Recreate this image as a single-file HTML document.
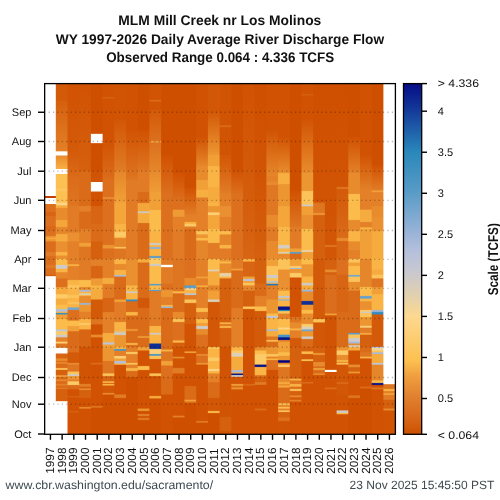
<!DOCTYPE html><html><head><meta charset="utf-8"><style>html,body{margin:0;padding:0;background:#fff;width:500px;height:500px;overflow:hidden}svg{display:block;will-change:transform}text{font-family:"Liberation Sans",sans-serif}</style></head><body>
<svg width="500" height="500" viewBox="0 0 500 500">
<rect width="500" height="500" fill="#fff"/>
<defs><linearGradient id="c1997" gradientUnits="userSpaceOnUse" x1="0" y1="83.0" x2="0" y2="434.0"><stop offset="0.0000" stop-color="#ffffff"/><stop offset="0.3211" stop-color="#ffffff"/><stop offset="0.3228" stop-color="#c04000"/><stop offset="0.3262" stop-color="#c04000"/><stop offset="0.3279" stop-color="#ffffff"/><stop offset="0.3436" stop-color="#ffffff"/><stop offset="0.3453" stop-color="#dc701e"/><stop offset="0.3658" stop-color="#dc701e"/><stop offset="0.3692" stop-color="#d76513"/><stop offset="0.3772" stop-color="#d76513"/><stop offset="0.3806" stop-color="#dc701e"/><stop offset="0.4057" stop-color="#dc701e"/><stop offset="0.4091" stop-color="#d96917"/><stop offset="0.4171" stop-color="#d96917"/><stop offset="0.4205" stop-color="#dc701e"/><stop offset="0.4342" stop-color="#dc701e"/><stop offset="0.4376" stop-color="#ec9632"/><stop offset="0.4399" stop-color="#ec9632"/><stop offset="0.4425" stop-color="#f6ab3e"/><stop offset="0.4435" stop-color="#f6ab3e"/><stop offset="0.4462" stop-color="#ec9632"/><stop offset="0.4496" stop-color="#ec9632"/><stop offset="0.4530" stop-color="#db6e1c"/><stop offset="0.4798" stop-color="#db6e1c"/><stop offset="0.4832" stop-color="#e17b25"/><stop offset="0.4912" stop-color="#e17b25"/><stop offset="0.4946" stop-color="#db6e1c"/><stop offset="0.5168" stop-color="#db6e1c"/><stop offset="0.5202" stop-color="#e17b25"/><stop offset="0.5254" stop-color="#e17b25"/><stop offset="0.5288" stop-color="#db6e1c"/><stop offset="0.5447" stop-color="#db6e1c"/><stop offset="0.5481" stop-color="#d5600e"/><stop offset="0.5499" stop-color="#d5600e"/><stop offset="0.5516" stop-color="#ffffff"/><stop offset="1.0000" stop-color="#ffffff"/></linearGradient><linearGradient id="c1998" gradientUnits="userSpaceOnUse" x1="0" y1="83.0" x2="0" y2="434.0"><stop offset="0.0017" stop-color="#d35a09"/><stop offset="0.0484" stop-color="#d35a09"/><stop offset="0.0519" stop-color="#d5600e"/><stop offset="0.1940" stop-color="#e38028"/><stop offset="0.1957" stop-color="#ffffff"/><stop offset="0.2057" stop-color="#ffffff"/><stop offset="0.2074" stop-color="#e88b2d"/><stop offset="0.2442" stop-color="#f8af42"/><stop offset="0.2459" stop-color="#ffffff"/><stop offset="0.2581" stop-color="#ffffff"/><stop offset="0.2598" stop-color="#fcc053"/><stop offset="0.2991" stop-color="#fcc053"/><stop offset="0.3026" stop-color="#fdc661"/><stop offset="0.3066" stop-color="#fdc661"/><stop offset="0.3100" stop-color="#fcc053"/><stop offset="0.3393" stop-color="#fcc053"/><stop offset="0.3427" stop-color="#fdd688"/><stop offset="0.3467" stop-color="#fdd688"/><stop offset="0.3501" stop-color="#f6ab3e"/><stop offset="0.3544" stop-color="#f6ab3e"/><stop offset="0.3578" stop-color="#e88b2d"/><stop offset="0.3886" stop-color="#e88b2d"/><stop offset="0.3920" stop-color="#f4a63b"/><stop offset="0.4085" stop-color="#f4a63b"/><stop offset="0.4120" stop-color="#e5862a"/><stop offset="0.4285" stop-color="#e5862a"/><stop offset="0.4319" stop-color="#f6ab3e"/><stop offset="0.4496" stop-color="#f6ab3e"/><stop offset="0.4530" stop-color="#ea9030"/><stop offset="0.4798" stop-color="#ea9030"/><stop offset="0.4832" stop-color="#f9b445"/><stop offset="0.4897" stop-color="#f9b445"/><stop offset="0.4932" stop-color="#ea9030"/><stop offset="0.4997" stop-color="#ea9030"/><stop offset="0.5031" stop-color="#fcbc4c"/><stop offset="0.5168" stop-color="#fcbc4c"/><stop offset="0.5202" stop-color="#cccbca"/><stop offset="0.5274" stop-color="#cccbca"/><stop offset="0.5308" stop-color="#f9b445"/><stop offset="0.5373" stop-color="#f9b445"/><stop offset="0.5407" stop-color="#e5862a"/><stop offset="0.5550" stop-color="#e5862a"/><stop offset="0.5584" stop-color="#dc701e"/><stop offset="0.5801" stop-color="#dc701e"/><stop offset="0.5835" stop-color="#f6ab3e"/><stop offset="0.6000" stop-color="#f6ab3e"/><stop offset="0.6034" stop-color="#fdca68"/><stop offset="0.6125" stop-color="#fdca68"/><stop offset="0.6160" stop-color="#f6ab3e"/><stop offset="0.6302" stop-color="#f6ab3e"/><stop offset="0.6336" stop-color="#fcbc4c"/><stop offset="0.6422" stop-color="#fcbc4c"/><stop offset="0.6456" stop-color="#b1c0db"/><stop offset="0.6501" stop-color="#b1c0db"/><stop offset="0.6527" stop-color="#f9b445"/><stop offset="0.6536" stop-color="#f9b445"/><stop offset="0.6561" stop-color="#3d90c0"/><stop offset="0.6578" stop-color="#3d90c0"/><stop offset="0.6613" stop-color="#f1a038"/><stop offset="0.6707" stop-color="#f1a038"/><stop offset="0.6741" stop-color="#fcbc4c"/><stop offset="0.7003" stop-color="#fcbc4c"/><stop offset="0.7037" stop-color="#bcc6dc"/><stop offset="0.7054" stop-color="#bcc6dc"/><stop offset="0.7088" stop-color="#fdca68"/><stop offset="0.7154" stop-color="#fdca68"/><stop offset="0.7188" stop-color="#cccbca"/><stop offset="0.7228" stop-color="#cccbca"/><stop offset="0.7262" stop-color="#e38028"/><stop offset="0.7353" stop-color="#e38028"/><stop offset="0.7387" stop-color="#fdd078"/><stop offset="0.7405" stop-color="#fdd078"/><stop offset="0.7439" stop-color="#de7521"/><stop offset="0.7533" stop-color="#de7521"/><stop offset="0.7550" stop-color="#ffffff"/><stop offset="0.7698" stop-color="#ffffff"/><stop offset="0.7715" stop-color="#d76513"/><stop offset="0.7829" stop-color="#d76513"/><stop offset="0.7863" stop-color="#e88b2d"/><stop offset="0.7903" stop-color="#e88b2d"/><stop offset="0.7930" stop-color="#da6b19"/><stop offset="0.7939" stop-color="#da6b19"/><stop offset="0.7965" stop-color="#e88b2d"/><stop offset="0.7981" stop-color="#e88b2d"/><stop offset="0.8014" stop-color="#da6b19"/><stop offset="0.8103" stop-color="#da6b19"/><stop offset="0.8137" stop-color="#fcc35a"/><stop offset="0.8157" stop-color="#fcc35a"/><stop offset="0.8191" stop-color="#d5600e"/><stop offset="0.8308" stop-color="#d5600e"/><stop offset="0.8342" stop-color="#f1a038"/><stop offset="0.8359" stop-color="#f1a038"/><stop offset="0.8393" stop-color="#da6b19"/><stop offset="0.8430" stop-color="#da6b19"/><stop offset="0.8462" stop-color="#e88b2d"/><stop offset="0.8476" stop-color="#e88b2d"/><stop offset="0.8507" stop-color="#da6b19"/><stop offset="0.8558" stop-color="#da6b19"/><stop offset="0.8590" stop-color="#e38028"/><stop offset="0.8604" stop-color="#e38028"/><stop offset="0.8635" stop-color="#da6b19"/><stop offset="0.8672" stop-color="#da6b19"/><stop offset="0.8699" stop-color="#e17b25"/><stop offset="0.8708" stop-color="#e17b25"/><stop offset="0.8735" stop-color="#d5600e"/><stop offset="0.9060" stop-color="#d5600e"/><stop offset="0.9077" stop-color="#ffffff"/><stop offset="1.0000" stop-color="#ffffff"/></linearGradient><linearGradient id="c1999" gradientUnits="userSpaceOnUse" x1="0" y1="83.0" x2="0" y2="434.0"><stop offset="0.0017" stop-color="#d15202"/><stop offset="0.1892" stop-color="#d35a09"/><stop offset="0.1926" stop-color="#d35a09"/><stop offset="0.2746" stop-color="#db6d1b"/><stop offset="0.2781" stop-color="#db6d1b"/><stop offset="0.3487" stop-color="#de7521"/><stop offset="0.3521" stop-color="#e17b25"/><stop offset="0.4245" stop-color="#e17b25"/><stop offset="0.4279" stop-color="#ea9030"/><stop offset="0.4496" stop-color="#ea9030"/><stop offset="0.4530" stop-color="#e38028"/><stop offset="0.4997" stop-color="#e38028"/><stop offset="0.5031" stop-color="#e38028"/><stop offset="0.5148" stop-color="#e38028"/><stop offset="0.5181" stop-color="#f9b445"/><stop offset="0.5198" stop-color="#f9b445"/><stop offset="0.5231" stop-color="#e38028"/><stop offset="0.5595" stop-color="#e38028"/><stop offset="0.5630" stop-color="#f9b445"/><stop offset="0.5738" stop-color="#f9b445"/><stop offset="0.5772" stop-color="#fcc35a"/><stop offset="0.5823" stop-color="#fcc35a"/><stop offset="0.5858" stop-color="#f9b445"/><stop offset="0.6023" stop-color="#f9b445"/><stop offset="0.6057" stop-color="#fcc35a"/><stop offset="0.6108" stop-color="#fcc35a"/><stop offset="0.6142" stop-color="#f9b445"/><stop offset="0.6222" stop-color="#f9b445"/><stop offset="0.6256" stop-color="#fcc35a"/><stop offset="0.6279" stop-color="#fcc35a"/><stop offset="0.6313" stop-color="#f9b445"/><stop offset="0.6376" stop-color="#f9b445"/><stop offset="0.6410" stop-color="#74a6ce"/><stop offset="0.6450" stop-color="#74a6ce"/><stop offset="0.6484" stop-color="#dc701e"/><stop offset="0.6752" stop-color="#dc701e"/><stop offset="0.6786" stop-color="#fcbc4c"/><stop offset="0.6906" stop-color="#fcbc4c"/><stop offset="0.6940" stop-color="#f1a038"/><stop offset="0.7054" stop-color="#f1a038"/><stop offset="0.7088" stop-color="#da6b19"/><stop offset="0.7504" stop-color="#da6b19"/><stop offset="0.7538" stop-color="#dc701e"/><stop offset="0.7655" stop-color="#dc701e"/><stop offset="0.7689" stop-color="#d35a09"/><stop offset="0.7960" stop-color="#d35a09"/><stop offset="0.7992" stop-color="#e88b2d"/><stop offset="0.8008" stop-color="#e88b2d"/><stop offset="0.8040" stop-color="#de7521"/><stop offset="0.8205" stop-color="#de7521"/><stop offset="0.8239" stop-color="#fcc35a"/><stop offset="0.8282" stop-color="#fcc35a"/><stop offset="0.8315" stop-color="#cccbca"/><stop offset="0.8331" stop-color="#cccbca"/><stop offset="0.8365" stop-color="#ec9632"/><stop offset="0.8433" stop-color="#ec9632"/><stop offset="0.8466" stop-color="#e38028"/><stop offset="0.8482" stop-color="#e38028"/><stop offset="0.8516" stop-color="#fdca68"/><stop offset="0.8587" stop-color="#fdca68"/><stop offset="0.8621" stop-color="#da6b19"/><stop offset="0.8709" stop-color="#da6b19"/><stop offset="0.8744" stop-color="#d15202"/><stop offset="0.8900" stop-color="#d15202"/><stop offset="0.8932" stop-color="#d5600e"/><stop offset="0.8946" stop-color="#d5600e"/><stop offset="0.8977" stop-color="#d15202"/><stop offset="0.9328" stop-color="#d15202"/><stop offset="0.9359" stop-color="#d5600e"/><stop offset="0.9373" stop-color="#d5600e"/><stop offset="0.9405" stop-color="#d15202"/><stop offset="0.9983" stop-color="#d15202"/></linearGradient><linearGradient id="c2000" gradientUnits="userSpaceOnUse" x1="0" y1="83.0" x2="0" y2="434.0"><stop offset="0.0017" stop-color="#d15202"/><stop offset="0.2490" stop-color="#d5600e"/><stop offset="0.2524" stop-color="#da6b19"/><stop offset="0.3487" stop-color="#da6b19"/><stop offset="0.3521" stop-color="#e38028"/><stop offset="0.3644" stop-color="#e38028"/><stop offset="0.3678" stop-color="#da6b19"/><stop offset="0.4142" stop-color="#da6b19"/><stop offset="0.4177" stop-color="#e38028"/><stop offset="0.4541" stop-color="#e38028"/><stop offset="0.4575" stop-color="#f1a038"/><stop offset="0.4647" stop-color="#f1a038"/><stop offset="0.4681" stop-color="#de7521"/><stop offset="0.4997" stop-color="#de7521"/><stop offset="0.5031" stop-color="#e17b25"/><stop offset="0.5595" stop-color="#e17b25"/><stop offset="0.5630" stop-color="#fcbc4c"/><stop offset="0.5795" stop-color="#fcbc4c"/><stop offset="0.5829" stop-color="#e88b2d"/><stop offset="0.5880" stop-color="#e88b2d"/><stop offset="0.5913" stop-color="#a7bad9"/><stop offset="0.5928" stop-color="#a7bad9"/><stop offset="0.5959" stop-color="#f9b445"/><stop offset="0.5975" stop-color="#f9b445"/><stop offset="0.6008" stop-color="#dcd0b8"/><stop offset="0.6024" stop-color="#dcd0b8"/><stop offset="0.6049" stop-color="#f9b445"/><stop offset="0.6059" stop-color="#f9b445"/><stop offset="0.6085" stop-color="#e88b2d"/><stop offset="0.6251" stop-color="#e88b2d"/><stop offset="0.6285" stop-color="#9cb4d8"/><stop offset="0.6302" stop-color="#9cb4d8"/><stop offset="0.6336" stop-color="#ec9632"/><stop offset="0.6501" stop-color="#ec9632"/><stop offset="0.6536" stop-color="#e38028"/><stop offset="0.6707" stop-color="#e38028"/><stop offset="0.6741" stop-color="#f9b445"/><stop offset="0.6821" stop-color="#f9b445"/><stop offset="0.6855" stop-color="#fdca68"/><stop offset="0.6877" stop-color="#fdca68"/><stop offset="0.6912" stop-color="#f9b445"/><stop offset="0.7003" stop-color="#f9b445"/><stop offset="0.7037" stop-color="#d76513"/><stop offset="0.7504" stop-color="#d76513"/><stop offset="0.7538" stop-color="#d15404"/><stop offset="0.8558" stop-color="#d15404"/><stop offset="0.8593" stop-color="#e38028"/><stop offset="0.8632" stop-color="#e38028"/><stop offset="0.8667" stop-color="#d5600e"/><stop offset="0.8684" stop-color="#d5600e"/><stop offset="0.8716" stop-color="#e88b2d"/><stop offset="0.8731" stop-color="#e88b2d"/><stop offset="0.8764" stop-color="#d5600e"/><stop offset="0.8957" stop-color="#d5600e"/><stop offset="0.8991" stop-color="#d15202"/><stop offset="0.9214" stop-color="#d15202"/><stop offset="0.9246" stop-color="#e88b2d"/><stop offset="0.9261" stop-color="#e88b2d"/><stop offset="0.9293" stop-color="#d15202"/><stop offset="0.9983" stop-color="#d15202"/></linearGradient><linearGradient id="c2001" gradientUnits="userSpaceOnUse" x1="0" y1="83.0" x2="0" y2="434.0"><stop offset="0.0017" stop-color="#cf4f00"/><stop offset="0.1436" stop-color="#cf4f00"/><stop offset="0.1453" stop-color="#ffffff"/><stop offset="0.1709" stop-color="#ffffff"/><stop offset="0.1726" stop-color="#cf4f00"/><stop offset="0.2490" stop-color="#cf4f00"/><stop offset="0.2524" stop-color="#d15404"/><stop offset="0.2815" stop-color="#d15404"/><stop offset="0.2832" stop-color="#ffffff"/><stop offset="0.3083" stop-color="#ffffff"/><stop offset="0.3100" stop-color="#d15202"/><stop offset="0.3487" stop-color="#d15202"/><stop offset="0.3521" stop-color="#d76513"/><stop offset="0.4000" stop-color="#d76513"/><stop offset="0.4034" stop-color="#da6b19"/><stop offset="0.4496" stop-color="#da6b19"/><stop offset="0.4530" stop-color="#d5600e"/><stop offset="0.4997" stop-color="#d5600e"/><stop offset="0.5031" stop-color="#e38028"/><stop offset="0.5197" stop-color="#e38028"/><stop offset="0.5231" stop-color="#d76513"/><stop offset="0.5550" stop-color="#d76513"/><stop offset="0.5584" stop-color="#ee9b35"/><stop offset="0.5749" stop-color="#ee9b35"/><stop offset="0.5783" stop-color="#f9b445"/><stop offset="0.5852" stop-color="#f9b445"/><stop offset="0.5886" stop-color="#f6ab3e"/><stop offset="0.6151" stop-color="#f6ab3e"/><stop offset="0.6185" stop-color="#d35a09"/><stop offset="0.6707" stop-color="#d35a09"/><stop offset="0.6741" stop-color="#de7521"/><stop offset="0.6858" stop-color="#de7521"/><stop offset="0.6892" stop-color="#d15404"/><stop offset="0.7154" stop-color="#d15404"/><stop offset="0.7188" stop-color="#e88b2d"/><stop offset="0.7228" stop-color="#e88b2d"/><stop offset="0.7262" stop-color="#d15202"/><stop offset="0.7504" stop-color="#d15202"/><stop offset="0.7538" stop-color="#d15404"/><stop offset="0.7954" stop-color="#d15404"/><stop offset="0.7989" stop-color="#da6b19"/><stop offset="0.8006" stop-color="#da6b19"/><stop offset="0.8040" stop-color="#d15202"/><stop offset="0.9185" stop-color="#d15202"/><stop offset="0.9218" stop-color="#de7521"/><stop offset="0.9235" stop-color="#de7521"/><stop offset="0.9268" stop-color="#cf4f00"/><stop offset="0.9983" stop-color="#cf4f00"/></linearGradient><linearGradient id="c2002" gradientUnits="userSpaceOnUse" x1="0" y1="83.0" x2="0" y2="434.0"><stop offset="0.0017" stop-color="#d15202"/><stop offset="0.0382" stop-color="#d15202"/><stop offset="0.0413" stop-color="#d66210"/><stop offset="0.0427" stop-color="#d66210"/><stop offset="0.0459" stop-color="#d15202"/><stop offset="0.1607" stop-color="#d15202"/><stop offset="0.1641" stop-color="#d15202"/><stop offset="0.2746" stop-color="#db6d1b"/><stop offset="0.2781" stop-color="#dc701e"/><stop offset="0.3231" stop-color="#dc701e"/><stop offset="0.3265" stop-color="#e88b2d"/><stop offset="0.3288" stop-color="#e88b2d"/><stop offset="0.3322" stop-color="#dc701e"/><stop offset="0.4598" stop-color="#dc701e"/><stop offset="0.4632" stop-color="#ec9632"/><stop offset="0.4698" stop-color="#ec9632"/><stop offset="0.4732" stop-color="#dc701e"/><stop offset="0.4997" stop-color="#dc701e"/><stop offset="0.5031" stop-color="#e38028"/><stop offset="0.5538" stop-color="#e38028"/><stop offset="0.5573" stop-color="#f6ab3e"/><stop offset="0.5709" stop-color="#f6ab3e"/><stop offset="0.5744" stop-color="#e17b25"/><stop offset="0.6108" stop-color="#e17b25"/><stop offset="0.6142" stop-color="#d76513"/><stop offset="0.6507" stop-color="#d76513"/><stop offset="0.6541" stop-color="#e38028"/><stop offset="0.7105" stop-color="#e38028"/><stop offset="0.7140" stop-color="#f6ab3e"/><stop offset="0.7362" stop-color="#f6ab3e"/><stop offset="0.7422" stop-color="#bcc6dc"/><stop offset="0.7436" stop-color="#bcc6dc"/><stop offset="0.7467" stop-color="#f1a038"/><stop offset="0.7504" stop-color="#f1a038"/><stop offset="0.7538" stop-color="#ec9632"/><stop offset="0.7903" stop-color="#ec9632"/><stop offset="0.7937" stop-color="#de7521"/><stop offset="0.8256" stop-color="#de7521"/><stop offset="0.8291" stop-color="#fcc35a"/><stop offset="0.8330" stop-color="#fcc35a"/><stop offset="0.8365" stop-color="#d76513"/><stop offset="0.8481" stop-color="#d76513"/><stop offset="0.8515" stop-color="#f9b445"/><stop offset="0.8531" stop-color="#f9b445"/><stop offset="0.8557" stop-color="#da6b19"/><stop offset="0.8566" stop-color="#da6b19"/><stop offset="0.8590" stop-color="#f9b445"/><stop offset="0.8604" stop-color="#f9b445"/><stop offset="0.8635" stop-color="#d25706"/><stop offset="0.8815" stop-color="#d25706"/><stop offset="0.8846" stop-color="#e88b2d"/><stop offset="0.8860" stop-color="#e88b2d"/><stop offset="0.8892" stop-color="#cf4f00"/><stop offset="0.9983" stop-color="#cf4f00"/></linearGradient><linearGradient id="c2003" gradientUnits="userSpaceOnUse" x1="0" y1="83.0" x2="0" y2="434.0"><stop offset="0.0017" stop-color="#d15404"/><stop offset="0.1037" stop-color="#d15404"/><stop offset="0.1071" stop-color="#d25706"/><stop offset="0.2490" stop-color="#e17b25"/><stop offset="0.2524" stop-color="#e5862a"/><stop offset="0.3402" stop-color="#f1a038"/><stop offset="0.3436" stop-color="#f4a63b"/><stop offset="0.4000" stop-color="#f4a63b"/><stop offset="0.4034" stop-color="#f9b445"/><stop offset="0.4228" stop-color="#f9b445"/><stop offset="0.4262" stop-color="#fdca68"/><stop offset="0.4370" stop-color="#fdca68"/><stop offset="0.4397" stop-color="#f9b445"/><stop offset="0.4406" stop-color="#f9b445"/><stop offset="0.4433" stop-color="#e5862a"/><stop offset="0.4655" stop-color="#e5862a"/><stop offset="0.4687" stop-color="#fcc35a"/><stop offset="0.4701" stop-color="#fcc35a"/><stop offset="0.4732" stop-color="#de7521"/><stop offset="0.4997" stop-color="#de7521"/><stop offset="0.5031" stop-color="#f9b445"/><stop offset="0.5140" stop-color="#f9b445"/><stop offset="0.5174" stop-color="#e88b2d"/><stop offset="0.5311" stop-color="#e88b2d"/><stop offset="0.5345" stop-color="#f9b445"/><stop offset="0.5453" stop-color="#f9b445"/><stop offset="0.5485" stop-color="#a7bad9"/><stop offset="0.5500" stop-color="#a7bad9"/><stop offset="0.5533" stop-color="#da6b19"/><stop offset="0.6151" stop-color="#da6b19"/><stop offset="0.6185" stop-color="#f1a038"/><stop offset="0.6222" stop-color="#f1a038"/><stop offset="0.6256" stop-color="#e17b25"/><stop offset="0.6792" stop-color="#e17b25"/><stop offset="0.6826" stop-color="#f9b445"/><stop offset="0.7048" stop-color="#f9b445"/><stop offset="0.7140" stop-color="#cccbca"/><stop offset="0.7162" stop-color="#cccbca"/><stop offset="0.7197" stop-color="#ec9632"/><stop offset="0.7504" stop-color="#ec9632"/><stop offset="0.7538" stop-color="#f9b445"/><stop offset="0.7561" stop-color="#f9b445"/><stop offset="0.7595" stop-color="#4794c3"/><stop offset="0.7613" stop-color="#4794c3"/><stop offset="0.7647" stop-color="#e38028"/><stop offset="0.7761" stop-color="#e38028"/><stop offset="0.7795" stop-color="#fdd078"/><stop offset="0.7829" stop-color="#fdd078"/><stop offset="0.7863" stop-color="#f1a038"/><stop offset="0.7903" stop-color="#f1a038"/><stop offset="0.7937" stop-color="#b1c0db"/><stop offset="0.7980" stop-color="#b1c0db"/><stop offset="0.8006" stop-color="#f9b445"/><stop offset="0.8014" stop-color="#f9b445"/><stop offset="0.8040" stop-color="#d15202"/><stop offset="0.8858" stop-color="#d15202"/><stop offset="0.8892" stop-color="#e17b25"/><stop offset="0.8957" stop-color="#e17b25"/><stop offset="0.8991" stop-color="#cf4f00"/><stop offset="0.9983" stop-color="#cf4f00"/></linearGradient><linearGradient id="c2004" gradientUnits="userSpaceOnUse" x1="0" y1="83.0" x2="0" y2="434.0"><stop offset="0.0017" stop-color="#d15202"/><stop offset="0.1322" stop-color="#d15202"/><stop offset="0.1356" stop-color="#d15404"/><stop offset="0.2746" stop-color="#de7521"/><stop offset="0.2781" stop-color="#e17b25"/><stop offset="0.4997" stop-color="#e17b25"/><stop offset="0.5031" stop-color="#ea9030"/><stop offset="0.5752" stop-color="#ea9030"/><stop offset="0.5786" stop-color="#f9b445"/><stop offset="0.5923" stop-color="#f9b445"/><stop offset="0.5954" stop-color="#cccbca"/><stop offset="0.5969" stop-color="#cccbca"/><stop offset="0.6000" stop-color="#f9b445"/><stop offset="0.6151" stop-color="#f9b445"/><stop offset="0.6185" stop-color="#348cbe"/><stop offset="0.6202" stop-color="#348cbe"/><stop offset="0.6236" stop-color="#da6b19"/><stop offset="0.6507" stop-color="#da6b19"/><stop offset="0.6541" stop-color="#f9b445"/><stop offset="0.6607" stop-color="#f9b445"/><stop offset="0.6641" stop-color="#da6b19"/><stop offset="0.6991" stop-color="#da6b19"/><stop offset="0.7026" stop-color="#ec9632"/><stop offset="0.7048" stop-color="#ec9632"/><stop offset="0.7083" stop-color="#da6b19"/><stop offset="0.7390" stop-color="#da6b19"/><stop offset="0.7425" stop-color="#f9b445"/><stop offset="0.7447" stop-color="#f9b445"/><stop offset="0.7481" stop-color="#da6b19"/><stop offset="0.7504" stop-color="#da6b19"/><stop offset="0.7538" stop-color="#e38028"/><stop offset="0.7647" stop-color="#e38028"/><stop offset="0.7681" stop-color="#fdca68"/><stop offset="0.7704" stop-color="#fdca68"/><stop offset="0.7738" stop-color="#e38028"/><stop offset="0.7960" stop-color="#e38028"/><stop offset="0.7992" stop-color="#fcc35a"/><stop offset="0.8008" stop-color="#fcc35a"/><stop offset="0.8040" stop-color="#e38028"/><stop offset="0.8103" stop-color="#e38028"/><stop offset="0.8137" stop-color="#f9b445"/><stop offset="0.8188" stop-color="#f9b445"/><stop offset="0.8222" stop-color="#da6b19"/><stop offset="0.8359" stop-color="#da6b19"/><stop offset="0.8393" stop-color="#cf4f00"/><stop offset="0.9983" stop-color="#cf4f00"/></linearGradient><linearGradient id="c2005" gradientUnits="userSpaceOnUse" x1="0" y1="83.0" x2="0" y2="434.0"><stop offset="0.0017" stop-color="#cf4f00"/><stop offset="0.1322" stop-color="#cf4f00"/><stop offset="0.1356" stop-color="#d15202"/><stop offset="0.2490" stop-color="#de7521"/><stop offset="0.2524" stop-color="#e17b25"/><stop offset="0.3088" stop-color="#e17b25"/><stop offset="0.3123" stop-color="#da6b19"/><stop offset="0.3402" stop-color="#da6b19"/><stop offset="0.3436" stop-color="#f4a63b"/><stop offset="0.3644" stop-color="#f4a63b"/><stop offset="0.3675" stop-color="#cccbca"/><stop offset="0.3689" stop-color="#cccbca"/><stop offset="0.3721" stop-color="#f6ab3e"/><stop offset="0.3972" stop-color="#f6ab3e"/><stop offset="0.4006" stop-color="#da6b19"/><stop offset="0.4997" stop-color="#da6b19"/><stop offset="0.5031" stop-color="#f6ab3e"/><stop offset="0.5097" stop-color="#f6ab3e"/><stop offset="0.5131" stop-color="#da6b19"/><stop offset="0.6108" stop-color="#da6b19"/><stop offset="0.6142" stop-color="#d25706"/><stop offset="0.6393" stop-color="#d25706"/><stop offset="0.6427" stop-color="#da6b19"/><stop offset="0.7191" stop-color="#da6b19"/><stop offset="0.7225" stop-color="#ec9632"/><stop offset="0.7248" stop-color="#ec9632"/><stop offset="0.7282" stop-color="#da6b19"/><stop offset="0.7504" stop-color="#da6b19"/><stop offset="0.7538" stop-color="#f1a038"/><stop offset="0.7604" stop-color="#f1a038"/><stop offset="0.7638" stop-color="#d15202"/><stop offset="0.8046" stop-color="#d15202"/><stop offset="0.8080" stop-color="#fcbc4c"/><stop offset="0.8160" stop-color="#fcbc4c"/><stop offset="0.8194" stop-color="#d15202"/><stop offset="0.9259" stop-color="#d15202"/><stop offset="0.9293" stop-color="#ec9632"/><stop offset="0.9328" stop-color="#ec9632"/><stop offset="0.9362" stop-color="#cf4f00"/><stop offset="0.9413" stop-color="#cf4f00"/><stop offset="0.9447" stop-color="#e38028"/><stop offset="0.9470" stop-color="#e38028"/><stop offset="0.9504" stop-color="#d15404"/><stop offset="0.9527" stop-color="#d15404"/><stop offset="0.9561" stop-color="#e17b25"/><stop offset="0.9584" stop-color="#e17b25"/><stop offset="0.9618" stop-color="#cf4f00"/><stop offset="0.9983" stop-color="#cf4f00"/></linearGradient><linearGradient id="c2006" gradientUnits="userSpaceOnUse" x1="0" y1="83.0" x2="0" y2="434.0"><stop offset="0.0017" stop-color="#d15404"/><stop offset="0.0467" stop-color="#d15404"/><stop offset="0.0499" stop-color="#da6b19"/><stop offset="0.0513" stop-color="#da6b19"/><stop offset="0.0544" stop-color="#d15404"/><stop offset="0.0752" stop-color="#d15404"/><stop offset="0.0786" stop-color="#d35a09"/><stop offset="0.1635" stop-color="#dc701e"/><stop offset="0.1667" stop-color="#f1a038"/><stop offset="0.1681" stop-color="#f1a038"/><stop offset="0.1712" stop-color="#dd711f"/><stop offset="0.2490" stop-color="#e5862a"/><stop offset="0.2524" stop-color="#e88b2d"/><stop offset="0.3088" stop-color="#ee9b35"/><stop offset="0.3123" stop-color="#f1a038"/><stop offset="0.3601" stop-color="#f1a038"/><stop offset="0.3635" stop-color="#fcbc4c"/><stop offset="0.4199" stop-color="#fcbc4c"/><stop offset="0.4234" stop-color="#f9b445"/><stop offset="0.4541" stop-color="#f9b445"/><stop offset="0.4575" stop-color="#cccbca"/><stop offset="0.4598" stop-color="#cccbca"/><stop offset="0.4632" stop-color="#f9b445"/><stop offset="0.4655" stop-color="#f9b445"/><stop offset="0.4689" stop-color="#8fafd5"/><stop offset="0.4712" stop-color="#8fafd5"/><stop offset="0.4746" stop-color="#f9b445"/><stop offset="0.4912" stop-color="#f9b445"/><stop offset="0.4946" stop-color="#5a9cc8"/><stop offset="0.4969" stop-color="#5a9cc8"/><stop offset="0.5003" stop-color="#fdca68"/><stop offset="0.5140" stop-color="#fdca68"/><stop offset="0.5174" stop-color="#cccbca"/><stop offset="0.5197" stop-color="#cccbca"/><stop offset="0.5231" stop-color="#fcbc4c"/><stop offset="0.5709" stop-color="#fcbc4c"/><stop offset="0.5740" stop-color="#5a9cc8"/><stop offset="0.5753" stop-color="#5a9cc8"/><stop offset="0.5783" stop-color="#fcbc4c"/><stop offset="0.5880" stop-color="#fcbc4c"/><stop offset="0.5907" stop-color="#5a9cc8"/><stop offset="0.5916" stop-color="#5a9cc8"/><stop offset="0.5943" stop-color="#e17b25"/><stop offset="0.6906" stop-color="#e17b25"/><stop offset="0.6940" stop-color="#f9b445"/><stop offset="0.7105" stop-color="#f9b445"/><stop offset="0.7137" stop-color="#cccbca"/><stop offset="0.7151" stop-color="#cccbca"/><stop offset="0.7182" stop-color="#f9b445"/><stop offset="0.7405" stop-color="#f9b445"/><stop offset="0.7439" stop-color="#0c2f96"/><stop offset="0.7561" stop-color="#0c2f96"/><stop offset="0.7595" stop-color="#fdd078"/><stop offset="0.7704" stop-color="#fdd078"/><stop offset="0.7738" stop-color="#4794c3"/><stop offset="0.7755" stop-color="#4794c3"/><stop offset="0.7789" stop-color="#fcc35a"/><stop offset="0.7846" stop-color="#fcc35a"/><stop offset="0.7880" stop-color="#d15404"/><stop offset="0.8256" stop-color="#d15404"/><stop offset="0.8291" stop-color="#fcc35a"/><stop offset="0.8330" stop-color="#fcc35a"/><stop offset="0.8365" stop-color="#d15404"/><stop offset="0.8900" stop-color="#d15404"/><stop offset="0.8934" stop-color="#f6ab3e"/><stop offset="0.8969" stop-color="#f6ab3e"/><stop offset="0.9003" stop-color="#cf4f00"/><stop offset="0.9983" stop-color="#cf4f00"/></linearGradient><linearGradient id="c2007" gradientUnits="userSpaceOnUse" x1="0" y1="83.0" x2="0" y2="434.0"><stop offset="0.0017" stop-color="#cf4f00"/><stop offset="0.2034" stop-color="#cf4f00"/><stop offset="0.2068" stop-color="#d15202"/><stop offset="0.3174" stop-color="#dc701e"/><stop offset="0.3208" stop-color="#dc701e"/><stop offset="0.4997" stop-color="#dc701e"/><stop offset="0.5031" stop-color="#e17b25"/><stop offset="0.5168" stop-color="#e17b25"/><stop offset="0.5185" stop-color="#ffffff"/><stop offset="0.5242" stop-color="#ffffff"/><stop offset="0.5259" stop-color="#e17b25"/><stop offset="0.5698" stop-color="#e17b25"/><stop offset="0.5732" stop-color="#dc701e"/><stop offset="0.5880" stop-color="#dc701e"/><stop offset="0.5915" stop-color="#ec9632"/><stop offset="0.6080" stop-color="#ec9632"/><stop offset="0.6114" stop-color="#e38028"/><stop offset="0.6308" stop-color="#e38028"/><stop offset="0.6339" stop-color="#f9b445"/><stop offset="0.6353" stop-color="#f9b445"/><stop offset="0.6382" stop-color="#9cb4d8"/><stop offset="0.6396" stop-color="#9cb4d8"/><stop offset="0.6427" stop-color="#da6b19"/><stop offset="0.7504" stop-color="#da6b19"/><stop offset="0.7538" stop-color="#da6b19"/><stop offset="0.7578" stop-color="#da6b19"/><stop offset="0.7613" stop-color="#f9b445"/><stop offset="0.7630" stop-color="#f9b445"/><stop offset="0.7664" stop-color="#de7521"/><stop offset="0.7903" stop-color="#de7521"/><stop offset="0.7937" stop-color="#f1a038"/><stop offset="0.8031" stop-color="#f1a038"/><stop offset="0.8066" stop-color="#dc701e"/><stop offset="0.8359" stop-color="#dc701e"/><stop offset="0.8393" stop-color="#da6b19"/><stop offset="0.8858" stop-color="#da6b19"/><stop offset="0.8892" stop-color="#d15202"/><stop offset="0.9983" stop-color="#d15202"/></linearGradient><linearGradient id="c2008" gradientUnits="userSpaceOnUse" x1="0" y1="83.0" x2="0" y2="434.0"><stop offset="0.0017" stop-color="#cf4f00"/><stop offset="0.2547" stop-color="#cf4f00"/><stop offset="0.2581" stop-color="#d15202"/><stop offset="0.3373" stop-color="#dc701e"/><stop offset="0.3407" stop-color="#dc701e"/><stop offset="0.3593" stop-color="#dc701e"/><stop offset="0.3627" stop-color="#ee9b35"/><stop offset="0.3795" stop-color="#ee9b35"/><stop offset="0.3829" stop-color="#e38028"/><stop offset="0.4199" stop-color="#e38028"/><stop offset="0.4234" stop-color="#e17b25"/><stop offset="0.4997" stop-color="#e17b25"/><stop offset="0.5031" stop-color="#de7521"/><stop offset="0.5909" stop-color="#de7521"/><stop offset="0.5957" stop-color="#fcbc4c"/><stop offset="0.5974" stop-color="#fcbc4c"/><stop offset="0.6009" stop-color="#da6b19"/><stop offset="0.6507" stop-color="#da6b19"/><stop offset="0.6541" stop-color="#e88b2d"/><stop offset="0.6707" stop-color="#e88b2d"/><stop offset="0.6741" stop-color="#fcc35a"/><stop offset="0.6792" stop-color="#fcc35a"/><stop offset="0.6826" stop-color="#dc701e"/><stop offset="0.7305" stop-color="#dc701e"/><stop offset="0.7366" stop-color="#fcbc4c"/><stop offset="0.7381" stop-color="#fcbc4c"/><stop offset="0.7413" stop-color="#d5600e"/><stop offset="0.7504" stop-color="#d5600e"/><stop offset="0.7538" stop-color="#d15404"/><stop offset="0.7781" stop-color="#d15404"/><stop offset="0.7814" stop-color="#e88b2d"/><stop offset="0.7830" stop-color="#e88b2d"/><stop offset="0.7863" stop-color="#d15404"/><stop offset="0.8103" stop-color="#d15404"/><stop offset="0.8137" stop-color="#e17b25"/><stop offset="0.8256" stop-color="#e17b25"/><stop offset="0.8291" stop-color="#d15202"/><stop offset="0.9462" stop-color="#d15202"/><stop offset="0.9495" stop-color="#e38028"/><stop offset="0.9511" stop-color="#e38028"/><stop offset="0.9544" stop-color="#cf4f00"/><stop offset="0.9983" stop-color="#cf4f00"/></linearGradient><linearGradient id="c2009" gradientUnits="userSpaceOnUse" x1="0" y1="83.0" x2="0" y2="434.0"><stop offset="0.0017" stop-color="#cf4f00"/><stop offset="0.2974" stop-color="#cf4f00"/><stop offset="0.3009" stop-color="#d15404"/><stop offset="0.3744" stop-color="#e17b25"/><stop offset="0.3778" stop-color="#e38028"/><stop offset="0.3943" stop-color="#e38028"/><stop offset="0.3977" stop-color="#f9b445"/><stop offset="0.4000" stop-color="#f9b445"/><stop offset="0.4034" stop-color="#fdca68"/><stop offset="0.4071" stop-color="#fdca68"/><stop offset="0.4105" stop-color="#e17b25"/><stop offset="0.4142" stop-color="#e17b25"/><stop offset="0.4177" stop-color="#da6b19"/><stop offset="0.4997" stop-color="#da6b19"/><stop offset="0.5031" stop-color="#dc701e"/><stop offset="0.5538" stop-color="#dc701e"/><stop offset="0.5573" stop-color="#e88b2d"/><stop offset="0.5749" stop-color="#e88b2d"/><stop offset="0.5783" stop-color="#5a9cc8"/><stop offset="0.5823" stop-color="#5a9cc8"/><stop offset="0.5858" stop-color="#f2d498"/><stop offset="0.5880" stop-color="#f2d498"/><stop offset="0.5915" stop-color="#f9b445"/><stop offset="0.5974" stop-color="#f9b445"/><stop offset="0.6008" stop-color="#bcc6dc"/><stop offset="0.6024" stop-color="#bcc6dc"/><stop offset="0.6057" stop-color="#e17b25"/><stop offset="0.6151" stop-color="#e17b25"/><stop offset="0.6185" stop-color="#fcc35a"/><stop offset="0.6251" stop-color="#fcc35a"/><stop offset="0.6285" stop-color="#d5600e"/><stop offset="0.6849" stop-color="#d5600e"/><stop offset="0.6883" stop-color="#d15404"/><stop offset="0.7504" stop-color="#d15404"/><stop offset="0.7538" stop-color="#d15404"/><stop offset="0.7630" stop-color="#d15404"/><stop offset="0.7662" stop-color="#f1a038"/><stop offset="0.7677" stop-color="#f1a038"/><stop offset="0.7709" stop-color="#d15202"/><stop offset="0.8615" stop-color="#d15202"/><stop offset="0.8650" stop-color="#da6b19"/><stop offset="0.9009" stop-color="#da6b19"/><stop offset="0.9043" stop-color="#f1a038"/><stop offset="0.9060" stop-color="#f1a038"/><stop offset="0.9090" stop-color="#da6b19"/><stop offset="0.9104" stop-color="#da6b19"/><stop offset="0.9134" stop-color="#cf4f00"/><stop offset="0.9983" stop-color="#cf4f00"/></linearGradient><linearGradient id="c2010" gradientUnits="userSpaceOnUse" x1="0" y1="83.0" x2="0" y2="434.0"><stop offset="0.0017" stop-color="#d15202"/><stop offset="0.1521" stop-color="#d15202"/><stop offset="0.1556" stop-color="#d15404"/><stop offset="0.2348" stop-color="#e5862a"/><stop offset="0.2382" stop-color="#e88b2d"/><stop offset="0.2746" stop-color="#e88b2d"/><stop offset="0.2781" stop-color="#f1a038"/><stop offset="0.3031" stop-color="#f1a038"/><stop offset="0.3066" stop-color="#f8af42"/><stop offset="0.3242" stop-color="#f8af42"/><stop offset="0.3276" stop-color="#e38028"/><stop offset="0.4199" stop-color="#e38028"/><stop offset="0.4234" stop-color="#fcc35a"/><stop offset="0.4296" stop-color="#fcc35a"/><stop offset="0.4330" stop-color="#ec9632"/><stop offset="0.4399" stop-color="#ec9632"/><stop offset="0.4433" stop-color="#fcbc4c"/><stop offset="0.4470" stop-color="#fcbc4c"/><stop offset="0.4504" stop-color="#e5862a"/><stop offset="0.4997" stop-color="#e5862a"/><stop offset="0.5031" stop-color="#e38028"/><stop offset="0.5499" stop-color="#e38028"/><stop offset="0.5533" stop-color="#f1a038"/><stop offset="0.5550" stop-color="#f1a038"/><stop offset="0.5584" stop-color="#e38028"/><stop offset="0.5749" stop-color="#e38028"/><stop offset="0.5782" stop-color="#f6ab3e"/><stop offset="0.5797" stop-color="#f6ab3e"/><stop offset="0.5829" stop-color="#e38028"/><stop offset="0.6393" stop-color="#e38028"/><stop offset="0.6427" stop-color="#fcbc4c"/><stop offset="0.6507" stop-color="#fcbc4c"/><stop offset="0.6541" stop-color="#e17b25"/><stop offset="0.6707" stop-color="#e17b25"/><stop offset="0.6741" stop-color="#fcbc4c"/><stop offset="0.6821" stop-color="#fcbc4c"/><stop offset="0.6855" stop-color="#f1a038"/><stop offset="0.6906" stop-color="#f1a038"/><stop offset="0.6940" stop-color="#cccbca"/><stop offset="0.6991" stop-color="#cccbca"/><stop offset="0.7026" stop-color="#e88b2d"/><stop offset="0.7154" stop-color="#e88b2d"/><stop offset="0.7188" stop-color="#dc701e"/><stop offset="0.7504" stop-color="#dc701e"/><stop offset="0.7538" stop-color="#d5600e"/><stop offset="0.7704" stop-color="#d5600e"/><stop offset="0.7738" stop-color="#e88b2d"/><stop offset="0.7755" stop-color="#e88b2d"/><stop offset="0.7789" stop-color="#dc701e"/><stop offset="0.7960" stop-color="#dc701e"/><stop offset="0.7992" stop-color="#ec9632"/><stop offset="0.8008" stop-color="#ec9632"/><stop offset="0.8040" stop-color="#d15202"/><stop offset="0.9613" stop-color="#d15202"/><stop offset="0.9646" stop-color="#e17b25"/><stop offset="0.9662" stop-color="#e17b25"/><stop offset="0.9695" stop-color="#cf4f00"/><stop offset="0.9983" stop-color="#cf4f00"/></linearGradient><linearGradient id="c2011" gradientUnits="userSpaceOnUse" x1="0" y1="83.0" x2="0" y2="434.0"><stop offset="0.0017" stop-color="#d25706"/><stop offset="0.0809" stop-color="#d25706"/><stop offset="0.0843" stop-color="#d35a09"/><stop offset="0.2034" stop-color="#ec9632"/><stop offset="0.2068" stop-color="#f1a038"/><stop offset="0.2348" stop-color="#f1a038"/><stop offset="0.2382" stop-color="#f9b445"/><stop offset="0.2946" stop-color="#f9b445"/><stop offset="0.2980" stop-color="#f6ab3e"/><stop offset="0.3393" stop-color="#f6ab3e"/><stop offset="0.3427" stop-color="#f9b445"/><stop offset="0.3487" stop-color="#f9b445"/><stop offset="0.3521" stop-color="#ec9632"/><stop offset="0.3670" stop-color="#ec9632"/><stop offset="0.3704" stop-color="#fdd078"/><stop offset="0.3744" stop-color="#fdd078"/><stop offset="0.3778" stop-color="#f4a63b"/><stop offset="0.4142" stop-color="#f4a63b"/><stop offset="0.4177" stop-color="#fcbc4c"/><stop offset="0.4541" stop-color="#fcbc4c"/><stop offset="0.4575" stop-color="#e17b25"/><stop offset="0.4997" stop-color="#e17b25"/><stop offset="0.5031" stop-color="#fcbc4c"/><stop offset="0.5299" stop-color="#fcbc4c"/><stop offset="0.5332" stop-color="#dcd0b8"/><stop offset="0.5349" stop-color="#dcd0b8"/><stop offset="0.5382" stop-color="#f6ab3e"/><stop offset="0.5749" stop-color="#f6ab3e"/><stop offset="0.5783" stop-color="#e5862a"/><stop offset="0.5900" stop-color="#e5862a"/><stop offset="0.5934" stop-color="#f1a038"/><stop offset="0.6151" stop-color="#f1a038"/><stop offset="0.6185" stop-color="#dcd0b8"/><stop offset="0.6222" stop-color="#dcd0b8"/><stop offset="0.6256" stop-color="#d25706"/><stop offset="0.7504" stop-color="#d25706"/><stop offset="0.7538" stop-color="#fcc35a"/><stop offset="0.7561" stop-color="#fcc35a"/><stop offset="0.7595" stop-color="#f9b445"/><stop offset="0.7806" stop-color="#f9b445"/><stop offset="0.7840" stop-color="#fdca68"/><stop offset="0.7903" stop-color="#fdca68"/><stop offset="0.7937" stop-color="#f9b445"/><stop offset="0.8131" stop-color="#f9b445"/><stop offset="0.8165" stop-color="#fdd688"/><stop offset="0.8188" stop-color="#fdd688"/><stop offset="0.8222" stop-color="#f9b445"/><stop offset="0.8256" stop-color="#f9b445"/><stop offset="0.8291" stop-color="#e38028"/><stop offset="0.8507" stop-color="#e38028"/><stop offset="0.8541" stop-color="#da6b19"/><stop offset="0.8957" stop-color="#da6b19"/><stop offset="0.8991" stop-color="#d25706"/><stop offset="0.9328" stop-color="#d25706"/><stop offset="0.9362" stop-color="#fcbc4c"/><stop offset="0.9385" stop-color="#fcbc4c"/><stop offset="0.9419" stop-color="#cf4f00"/><stop offset="0.9983" stop-color="#cf4f00"/></linearGradient><linearGradient id="c2012" gradientUnits="userSpaceOnUse" x1="0" y1="83.0" x2="0" y2="434.0"><stop offset="0.0017" stop-color="#d15404"/><stop offset="0.1188" stop-color="#d15404"/><stop offset="0.1221" stop-color="#da6b19"/><stop offset="0.1237" stop-color="#da6b19"/><stop offset="0.1271" stop-color="#d15404"/><stop offset="0.2034" stop-color="#d15404"/><stop offset="0.2068" stop-color="#d25706"/><stop offset="0.3031" stop-color="#df7723"/><stop offset="0.3179" stop-color="#e38028"/><stop offset="0.3487" stop-color="#e38028"/><stop offset="0.3521" stop-color="#ea9030"/><stop offset="0.3801" stop-color="#ea9030"/><stop offset="0.3835" stop-color="#e38028"/><stop offset="0.4199" stop-color="#e38028"/><stop offset="0.4234" stop-color="#fcbc4c"/><stop offset="0.4296" stop-color="#fcbc4c"/><stop offset="0.4330" stop-color="#e5862a"/><stop offset="0.4598" stop-color="#e5862a"/><stop offset="0.4632" stop-color="#f9b445"/><stop offset="0.4698" stop-color="#f9b445"/><stop offset="0.4732" stop-color="#e17b25"/><stop offset="0.4997" stop-color="#e17b25"/><stop offset="0.5031" stop-color="#ec9632"/><stop offset="0.5071" stop-color="#ec9632"/><stop offset="0.5105" stop-color="#fcbc4c"/><stop offset="0.5123" stop-color="#fcbc4c"/><stop offset="0.5157" stop-color="#e88b2d"/><stop offset="0.5396" stop-color="#e88b2d"/><stop offset="0.5430" stop-color="#e7d2a8"/><stop offset="0.5499" stop-color="#e7d2a8"/><stop offset="0.5533" stop-color="#f9b445"/><stop offset="0.5550" stop-color="#f9b445"/><stop offset="0.5584" stop-color="#d5600e"/><stop offset="0.6803" stop-color="#d5600e"/><stop offset="0.6836" stop-color="#f9b445"/><stop offset="0.6851" stop-color="#f9b445"/><stop offset="0.6883" stop-color="#de7521"/><stop offset="0.6906" stop-color="#de7521"/><stop offset="0.6940" stop-color="#f9b445"/><stop offset="0.6963" stop-color="#f9b445"/><stop offset="0.6997" stop-color="#d5600e"/><stop offset="0.7504" stop-color="#d5600e"/><stop offset="0.7538" stop-color="#d15404"/><stop offset="0.9499" stop-color="#d15404"/><stop offset="0.9533" stop-color="#d5600e"/><stop offset="0.9897" stop-color="#d5600e"/><stop offset="0.9932" stop-color="#d15404"/><stop offset="0.9983" stop-color="#d15404"/></linearGradient><linearGradient id="c2013" gradientUnits="userSpaceOnUse" x1="0" y1="83.0" x2="0" y2="434.0"><stop offset="0.0017" stop-color="#cf4f00"/><stop offset="0.2462" stop-color="#cf4f00"/><stop offset="0.2496" stop-color="#d15202"/><stop offset="0.3174" stop-color="#dc701e"/><stop offset="0.3208" stop-color="#dc701e"/><stop offset="0.4997" stop-color="#dc701e"/><stop offset="0.5031" stop-color="#e17b25"/><stop offset="0.5274" stop-color="#e17b25"/><stop offset="0.5307" stop-color="#f1a038"/><stop offset="0.5323" stop-color="#f1a038"/><stop offset="0.5356" stop-color="#da6b19"/><stop offset="0.6393" stop-color="#da6b19"/><stop offset="0.6427" stop-color="#e17b25"/><stop offset="0.6707" stop-color="#e17b25"/><stop offset="0.6741" stop-color="#e38028"/><stop offset="0.7504" stop-color="#e38028"/><stop offset="0.7538" stop-color="#f9b445"/><stop offset="0.7604" stop-color="#f9b445"/><stop offset="0.7638" stop-color="#fdca68"/><stop offset="0.7675" stop-color="#fdca68"/><stop offset="0.7709" stop-color="#dcd0b8"/><stop offset="0.7781" stop-color="#dcd0b8"/><stop offset="0.7815" stop-color="#f6ab3e"/><stop offset="0.8160" stop-color="#f6ab3e"/><stop offset="0.8194" stop-color="#a7bad9"/><stop offset="0.8231" stop-color="#a7bad9"/><stop offset="0.8256" stop-color="#f9b445"/><stop offset="0.8265" stop-color="#f9b445"/><stop offset="0.8289" stop-color="#051389"/><stop offset="0.8304" stop-color="#051389"/><stop offset="0.8336" stop-color="#cccbca"/><stop offset="0.8356" stop-color="#cccbca"/><stop offset="0.8390" stop-color="#d15404"/><stop offset="0.8558" stop-color="#d15404"/><stop offset="0.8592" stop-color="#f1a038"/><stop offset="0.8608" stop-color="#f1a038"/><stop offset="0.8641" stop-color="#da6b19"/><stop offset="0.8658" stop-color="#da6b19"/><stop offset="0.8692" stop-color="#ec9632"/><stop offset="0.8709" stop-color="#ec9632"/><stop offset="0.8744" stop-color="#d15202"/><stop offset="0.9983" stop-color="#d15202"/></linearGradient><linearGradient id="c2014" gradientUnits="userSpaceOnUse" x1="0" y1="83.0" x2="0" y2="434.0"><stop offset="0.0017" stop-color="#d15202"/><stop offset="0.2490" stop-color="#d35a09"/><stop offset="0.2524" stop-color="#d35a09"/><stop offset="0.4997" stop-color="#d76513"/><stop offset="0.5031" stop-color="#f9b445"/><stop offset="0.5071" stop-color="#f9b445"/><stop offset="0.5105" stop-color="#d76513"/><stop offset="0.5499" stop-color="#d76513"/><stop offset="0.5533" stop-color="#f1a038"/><stop offset="0.5567" stop-color="#f1a038"/><stop offset="0.5601" stop-color="#bcc6dc"/><stop offset="0.5624" stop-color="#bcc6dc"/><stop offset="0.5658" stop-color="#f1a038"/><stop offset="0.5675" stop-color="#f1a038"/><stop offset="0.5709" stop-color="#fcc35a"/><stop offset="0.5749" stop-color="#fcc35a"/><stop offset="0.5783" stop-color="#e5862a"/><stop offset="0.5900" stop-color="#e5862a"/><stop offset="0.5934" stop-color="#d5600e"/><stop offset="0.6350" stop-color="#d5600e"/><stop offset="0.6385" stop-color="#fcc35a"/><stop offset="0.6422" stop-color="#fcc35a"/><stop offset="0.6456" stop-color="#d15404"/><stop offset="0.7504" stop-color="#d15404"/><stop offset="0.7538" stop-color="#d15202"/><stop offset="0.8558" stop-color="#d15202"/><stop offset="0.8592" stop-color="#da6b19"/><stop offset="0.8608" stop-color="#da6b19"/><stop offset="0.8641" stop-color="#d15202"/><stop offset="0.9983" stop-color="#d15202"/></linearGradient><linearGradient id="c2015" gradientUnits="userSpaceOnUse" x1="0" y1="83.0" x2="0" y2="434.0"><stop offset="0.0017" stop-color="#cf4f00"/><stop offset="0.2490" stop-color="#d15404"/><stop offset="0.2524" stop-color="#d15404"/><stop offset="0.4997" stop-color="#d5600e"/><stop offset="0.5031" stop-color="#d5600e"/><stop offset="0.5698" stop-color="#d5600e"/><stop offset="0.5732" stop-color="#da6b19"/><stop offset="0.6051" stop-color="#da6b19"/><stop offset="0.6085" stop-color="#e38028"/><stop offset="0.6350" stop-color="#e38028"/><stop offset="0.6385" stop-color="#fcbc4c"/><stop offset="0.6479" stop-color="#fcbc4c"/><stop offset="0.6513" stop-color="#d35a09"/><stop offset="0.7504" stop-color="#d35a09"/><stop offset="0.7538" stop-color="#e88b2d"/><stop offset="0.7604" stop-color="#e88b2d"/><stop offset="0.7638" stop-color="#fcbc4c"/><stop offset="0.7704" stop-color="#fcbc4c"/><stop offset="0.7738" stop-color="#fdca68"/><stop offset="0.8006" stop-color="#fdca68"/><stop offset="0.8040" stop-color="#051389"/><stop offset="0.8074" stop-color="#051389"/><stop offset="0.8108" stop-color="#f9b445"/><stop offset="0.8308" stop-color="#f9b445"/><stop offset="0.8342" stop-color="#da6b19"/><stop offset="0.8359" stop-color="#da6b19"/><stop offset="0.8393" stop-color="#d5600e"/><stop offset="0.8507" stop-color="#d5600e"/><stop offset="0.8541" stop-color="#e17b25"/><stop offset="0.8584" stop-color="#e17b25"/><stop offset="0.8618" stop-color="#d15202"/><stop offset="0.9259" stop-color="#d15202"/><stop offset="0.9293" stop-color="#da6b19"/><stop offset="0.9311" stop-color="#da6b19"/><stop offset="0.9345" stop-color="#d15202"/><stop offset="0.9983" stop-color="#d15202"/></linearGradient><linearGradient id="c2016" gradientUnits="userSpaceOnUse" x1="0" y1="83.0" x2="0" y2="434.0"><stop offset="0.0017" stop-color="#d15202"/><stop offset="0.1322" stop-color="#d15202"/><stop offset="0.1356" stop-color="#d15404"/><stop offset="0.2632" stop-color="#e5862a"/><stop offset="0.2667" stop-color="#e38028"/><stop offset="0.2792" stop-color="#e38028"/><stop offset="0.2826" stop-color="#e88b2d"/><stop offset="0.2889" stop-color="#e88b2d"/><stop offset="0.2923" stop-color="#df7723"/><stop offset="0.3744" stop-color="#df7723"/><stop offset="0.3778" stop-color="#e88b2d"/><stop offset="0.4085" stop-color="#e88b2d"/><stop offset="0.4120" stop-color="#e17b25"/><stop offset="0.4484" stop-color="#e17b25"/><stop offset="0.4519" stop-color="#e88b2d"/><stop offset="0.4997" stop-color="#e88b2d"/><stop offset="0.5031" stop-color="#f1a038"/><stop offset="0.5197" stop-color="#f1a038"/><stop offset="0.5231" stop-color="#fcc35a"/><stop offset="0.5453" stop-color="#fcc35a"/><stop offset="0.5487" stop-color="#cccbca"/><stop offset="0.5538" stop-color="#cccbca"/><stop offset="0.5573" stop-color="#fcc35a"/><stop offset="0.5624" stop-color="#fcc35a"/><stop offset="0.5658" stop-color="#b1c0db"/><stop offset="0.5675" stop-color="#b1c0db"/><stop offset="0.5700" stop-color="#f9b445"/><stop offset="0.5708" stop-color="#f9b445"/><stop offset="0.5732" stop-color="#2476b4"/><stop offset="0.5749" stop-color="#2476b4"/><stop offset="0.5783" stop-color="#e38028"/><stop offset="0.6151" stop-color="#e38028"/><stop offset="0.6185" stop-color="#ec9632"/><stop offset="0.6553" stop-color="#ec9632"/><stop offset="0.6587" stop-color="#fcbc4c"/><stop offset="0.6621" stop-color="#fcbc4c"/><stop offset="0.6655" stop-color="#bcc6dc"/><stop offset="0.6678" stop-color="#bcc6dc"/><stop offset="0.6712" stop-color="#f9b445"/><stop offset="0.7003" stop-color="#f9b445"/><stop offset="0.7035" stop-color="#a7bad9"/><stop offset="0.7050" stop-color="#a7bad9"/><stop offset="0.7083" stop-color="#f6ab3e"/><stop offset="0.7205" stop-color="#f6ab3e"/><stop offset="0.7239" stop-color="#de7521"/><stop offset="0.7305" stop-color="#de7521"/><stop offset="0.7338" stop-color="#fcbc4c"/><stop offset="0.7354" stop-color="#fcbc4c"/><stop offset="0.7387" stop-color="#da6b19"/><stop offset="0.7504" stop-color="#da6b19"/><stop offset="0.7538" stop-color="#ec9632"/><stop offset="0.7704" stop-color="#ec9632"/><stop offset="0.7738" stop-color="#fcc35a"/><stop offset="0.7781" stop-color="#fcc35a"/><stop offset="0.7814" stop-color="#e38028"/><stop offset="0.7830" stop-color="#e38028"/><stop offset="0.7861" stop-color="#f9b445"/><stop offset="0.7877" stop-color="#f9b445"/><stop offset="0.7909" stop-color="#dc701e"/><stop offset="0.8157" stop-color="#dc701e"/><stop offset="0.8191" stop-color="#d15202"/><stop offset="0.9983" stop-color="#d15202"/></linearGradient><linearGradient id="c2017" gradientUnits="userSpaceOnUse" x1="0" y1="83.0" x2="0" y2="434.0"><stop offset="0.0017" stop-color="#d15202"/><stop offset="0.1521" stop-color="#d15202"/><stop offset="0.1556" stop-color="#d15404"/><stop offset="0.2547" stop-color="#e88b2d"/><stop offset="0.2581" stop-color="#f8af42"/><stop offset="0.2860" stop-color="#f8af42"/><stop offset="0.2895" stop-color="#ec9632"/><stop offset="0.3487" stop-color="#ec9632"/><stop offset="0.3521" stop-color="#f4a63b"/><stop offset="0.4085" stop-color="#f4a63b"/><stop offset="0.4120" stop-color="#fab848"/><stop offset="0.4598" stop-color="#fab848"/><stop offset="0.4632" stop-color="#d4cec1"/><stop offset="0.4698" stop-color="#d4cec1"/><stop offset="0.4732" stop-color="#f9b445"/><stop offset="0.4798" stop-color="#f9b445"/><stop offset="0.4831" stop-color="#dcd0b8"/><stop offset="0.4847" stop-color="#dcd0b8"/><stop offset="0.4880" stop-color="#e88b2d"/><stop offset="0.4997" stop-color="#e88b2d"/><stop offset="0.5031" stop-color="#fcc35a"/><stop offset="0.5299" stop-color="#fcc35a"/><stop offset="0.5333" stop-color="#ea9030"/><stop offset="0.5900" stop-color="#ea9030"/><stop offset="0.5934" stop-color="#fcbc4c"/><stop offset="0.6051" stop-color="#fcbc4c"/><stop offset="0.6085" stop-color="#bcc6dc"/><stop offset="0.6101" stop-color="#bcc6dc"/><stop offset="0.6134" stop-color="#fcbc4c"/><stop offset="0.6151" stop-color="#fcbc4c"/><stop offset="0.6177" stop-color="#8fafd5"/><stop offset="0.6185" stop-color="#8fafd5"/><stop offset="0.6211" stop-color="#f9b445"/><stop offset="0.6350" stop-color="#f9b445"/><stop offset="0.6385" stop-color="#051389"/><stop offset="0.6450" stop-color="#051389"/><stop offset="0.6477" stop-color="#2a88bb"/><stop offset="0.6486" stop-color="#2a88bb"/><stop offset="0.6513" stop-color="#fcc35a"/><stop offset="0.6553" stop-color="#fcc35a"/><stop offset="0.6587" stop-color="#e38028"/><stop offset="0.6704" stop-color="#e38028"/><stop offset="0.6738" stop-color="#fcbc4c"/><stop offset="0.6952" stop-color="#fcbc4c"/><stop offset="0.6986" stop-color="#fdd688"/><stop offset="0.7003" stop-color="#fdd688"/><stop offset="0.7037" stop-color="#fcbc4c"/><stop offset="0.7154" stop-color="#fcbc4c"/><stop offset="0.7188" stop-color="#4794c3"/><stop offset="0.7228" stop-color="#4794c3"/><stop offset="0.7262" stop-color="#051389"/><stop offset="0.7305" stop-color="#051389"/><stop offset="0.7338" stop-color="#e38028"/><stop offset="0.7354" stop-color="#e38028"/><stop offset="0.7387" stop-color="#f1a038"/><stop offset="0.7504" stop-color="#f1a038"/><stop offset="0.7538" stop-color="#f1a038"/><stop offset="0.7655" stop-color="#f1a038"/><stop offset="0.7689" stop-color="#fcbc4c"/><stop offset="0.7755" stop-color="#fcbc4c"/><stop offset="0.7789" stop-color="#ec9632"/><stop offset="0.7880" stop-color="#ec9632"/><stop offset="0.7915" stop-color="#010582"/><stop offset="0.7954" stop-color="#010582"/><stop offset="0.7989" stop-color="#e88b2d"/><stop offset="0.8006" stop-color="#e88b2d"/><stop offset="0.8040" stop-color="#fdca68"/><stop offset="0.8074" stop-color="#fdca68"/><stop offset="0.8108" stop-color="#de7521"/><stop offset="0.8407" stop-color="#de7521"/><stop offset="0.8442" stop-color="#e88b2d"/><stop offset="0.8507" stop-color="#e88b2d"/><stop offset="0.8541" stop-color="#f6ab3e"/><stop offset="0.8558" stop-color="#f6ab3e"/><stop offset="0.8592" stop-color="#e88b2d"/><stop offset="0.8608" stop-color="#e88b2d"/><stop offset="0.8641" stop-color="#f6ab3e"/><stop offset="0.8658" stop-color="#f6ab3e"/><stop offset="0.8692" stop-color="#da6b19"/><stop offset="0.9108" stop-color="#da6b19"/><stop offset="0.9142" stop-color="#fcc35a"/><stop offset="0.9158" stop-color="#fcc35a"/><stop offset="0.9191" stop-color="#e38028"/><stop offset="0.9211" stop-color="#e38028"/><stop offset="0.9244" stop-color="#fcbc4c"/><stop offset="0.9260" stop-color="#fcbc4c"/><stop offset="0.9293" stop-color="#e38028"/><stop offset="0.9311" stop-color="#e38028"/><stop offset="0.9343" stop-color="#fcc35a"/><stop offset="0.9358" stop-color="#fcc35a"/><stop offset="0.9390" stop-color="#d5600e"/><stop offset="0.9510" stop-color="#d5600e"/><stop offset="0.9544" stop-color="#dc701e"/><stop offset="0.9613" stop-color="#dc701e"/><stop offset="0.9647" stop-color="#d15404"/><stop offset="0.9983" stop-color="#d15404"/></linearGradient><linearGradient id="c2018" gradientUnits="userSpaceOnUse" x1="0" y1="83.0" x2="0" y2="434.0"><stop offset="0.0017" stop-color="#cf4f00"/><stop offset="0.3060" stop-color="#cf4f00"/><stop offset="0.3094" stop-color="#d15202"/><stop offset="0.4085" stop-color="#de7521"/><stop offset="0.4120" stop-color="#e17b25"/><stop offset="0.4698" stop-color="#e17b25"/><stop offset="0.4732" stop-color="#f1a038"/><stop offset="0.4798" stop-color="#f1a038"/><stop offset="0.4831" stop-color="#5a9cc8"/><stop offset="0.4847" stop-color="#5a9cc8"/><stop offset="0.4880" stop-color="#da6b19"/><stop offset="0.4997" stop-color="#da6b19"/><stop offset="0.5031" stop-color="#f1a038"/><stop offset="0.5197" stop-color="#f1a038"/><stop offset="0.5231" stop-color="#fdca68"/><stop offset="0.5254" stop-color="#fdca68"/><stop offset="0.5279" stop-color="#a7bad9"/><stop offset="0.5288" stop-color="#a7bad9"/><stop offset="0.5313" stop-color="#ec9632"/><stop offset="0.5396" stop-color="#ec9632"/><stop offset="0.5430" stop-color="#fdca68"/><stop offset="0.5524" stop-color="#fdca68"/><stop offset="0.5558" stop-color="#d15202"/><stop offset="0.6650" stop-color="#d15202"/><stop offset="0.6684" stop-color="#de7521"/><stop offset="0.6803" stop-color="#de7521"/><stop offset="0.6838" stop-color="#e88b2d"/><stop offset="0.6977" stop-color="#e88b2d"/><stop offset="0.7011" stop-color="#f9b445"/><stop offset="0.7028" stop-color="#f9b445"/><stop offset="0.7063" stop-color="#e38028"/><stop offset="0.7248" stop-color="#e38028"/><stop offset="0.7282" stop-color="#d35a09"/><stop offset="0.7504" stop-color="#d35a09"/><stop offset="0.7538" stop-color="#d5600e"/><stop offset="0.8407" stop-color="#d5600e"/><stop offset="0.8441" stop-color="#f9b445"/><stop offset="0.8457" stop-color="#f9b445"/><stop offset="0.8490" stop-color="#de7521"/><stop offset="0.8558" stop-color="#de7521"/><stop offset="0.8593" stop-color="#f9b445"/><stop offset="0.8632" stop-color="#f9b445"/><stop offset="0.8667" stop-color="#dc701e"/><stop offset="0.8701" stop-color="#dc701e"/><stop offset="0.8735" stop-color="#fcc35a"/><stop offset="0.8758" stop-color="#fcc35a"/><stop offset="0.8792" stop-color="#d5600e"/><stop offset="0.8883" stop-color="#d5600e"/><stop offset="0.8917" stop-color="#e88b2d"/><stop offset="0.8934" stop-color="#e88b2d"/><stop offset="0.8969" stop-color="#d35a09"/><stop offset="0.9009" stop-color="#d35a09"/><stop offset="0.9043" stop-color="#e38028"/><stop offset="0.9060" stop-color="#e38028"/><stop offset="0.9094" stop-color="#d15202"/><stop offset="0.9983" stop-color="#d15202"/></linearGradient><linearGradient id="c2019" gradientUnits="userSpaceOnUse" x1="0" y1="83.0" x2="0" y2="434.0"><stop offset="0.0017" stop-color="#d15202"/><stop offset="0.0296" stop-color="#d15202"/><stop offset="0.0328" stop-color="#d5600e"/><stop offset="0.0342" stop-color="#d5600e"/><stop offset="0.0373" stop-color="#d15202"/><stop offset="0.1009" stop-color="#d15202"/><stop offset="0.1043" stop-color="#d15404"/><stop offset="0.2547" stop-color="#e88b2d"/><stop offset="0.2581" stop-color="#ec9632"/><stop offset="0.3060" stop-color="#ec9632"/><stop offset="0.3094" stop-color="#fcc35a"/><stop offset="0.3444" stop-color="#fcc35a"/><stop offset="0.3478" stop-color="#cccbca"/><stop offset="0.3494" stop-color="#cccbca"/><stop offset="0.3527" stop-color="#f1a038"/><stop offset="0.3744" stop-color="#f1a038"/><stop offset="0.3778" stop-color="#ea9030"/><stop offset="0.4142" stop-color="#ea9030"/><stop offset="0.4177" stop-color="#fcbc4c"/><stop offset="0.4741" stop-color="#fcbc4c"/><stop offset="0.4775" stop-color="#e7d2a8"/><stop offset="0.4798" stop-color="#e7d2a8"/><stop offset="0.4832" stop-color="#f1a038"/><stop offset="0.4997" stop-color="#f1a038"/><stop offset="0.5031" stop-color="#fcbc4c"/><stop offset="0.5148" stop-color="#fcbc4c"/><stop offset="0.5182" stop-color="#ec9632"/><stop offset="0.5499" stop-color="#ec9632"/><stop offset="0.5533" stop-color="#f9b445"/><stop offset="0.5681" stop-color="#f9b445"/><stop offset="0.5715" stop-color="#cccbca"/><stop offset="0.5749" stop-color="#cccbca"/><stop offset="0.5783" stop-color="#f6ab3e"/><stop offset="0.5875" stop-color="#f6ab3e"/><stop offset="0.5909" stop-color="#9cb4d8"/><stop offset="0.5926" stop-color="#9cb4d8"/><stop offset="0.5960" stop-color="#e88b2d"/><stop offset="0.6194" stop-color="#e88b2d"/><stop offset="0.6228" stop-color="#0c2f96"/><stop offset="0.6302" stop-color="#0c2f96"/><stop offset="0.6336" stop-color="#ec9632"/><stop offset="0.6450" stop-color="#ec9632"/><stop offset="0.6484" stop-color="#fcbc4c"/><stop offset="0.6553" stop-color="#fcbc4c"/><stop offset="0.6587" stop-color="#e88b2d"/><stop offset="0.6849" stop-color="#e88b2d"/><stop offset="0.6883" stop-color="#fdca68"/><stop offset="0.6929" stop-color="#fdca68"/><stop offset="0.6963" stop-color="#dcd0b8"/><stop offset="0.7003" stop-color="#dcd0b8"/><stop offset="0.7037" stop-color="#74a6ce"/><stop offset="0.7054" stop-color="#74a6ce"/><stop offset="0.7088" stop-color="#ec9632"/><stop offset="0.7205" stop-color="#ec9632"/><stop offset="0.7239" stop-color="#cccbca"/><stop offset="0.7276" stop-color="#cccbca"/><stop offset="0.7311" stop-color="#da6b19"/><stop offset="0.7504" stop-color="#da6b19"/><stop offset="0.7538" stop-color="#d5600e"/><stop offset="0.7630" stop-color="#d5600e"/><stop offset="0.7664" stop-color="#fcbc4c"/><stop offset="0.7704" stop-color="#fcbc4c"/><stop offset="0.7738" stop-color="#d35a09"/><stop offset="0.7855" stop-color="#d35a09"/><stop offset="0.7888" stop-color="#fcc35a"/><stop offset="0.7904" stop-color="#fcc35a"/><stop offset="0.7937" stop-color="#d15202"/><stop offset="0.8501" stop-color="#d15202"/><stop offset="0.8533" stop-color="#da6b19"/><stop offset="0.8547" stop-color="#da6b19"/><stop offset="0.8578" stop-color="#d15202"/><stop offset="0.9983" stop-color="#d15202"/></linearGradient><linearGradient id="c2020" gradientUnits="userSpaceOnUse" x1="0" y1="83.0" x2="0" y2="434.0"><stop offset="0.0017" stop-color="#cf4f00"/><stop offset="0.3393" stop-color="#d15404"/><stop offset="0.3427" stop-color="#de7521"/><stop offset="0.3687" stop-color="#de7521"/><stop offset="0.3721" stop-color="#ec9632"/><stop offset="0.3744" stop-color="#ec9632"/><stop offset="0.3778" stop-color="#d5600e"/><stop offset="0.4997" stop-color="#d5600e"/><stop offset="0.5031" stop-color="#d35a09"/><stop offset="0.6707" stop-color="#d35a09"/><stop offset="0.6741" stop-color="#fcc35a"/><stop offset="0.6803" stop-color="#fcc35a"/><stop offset="0.6838" stop-color="#d25706"/><stop offset="0.7504" stop-color="#d25706"/><stop offset="0.7538" stop-color="#d5600e"/><stop offset="0.7675" stop-color="#d5600e"/><stop offset="0.7709" stop-color="#ec9632"/><stop offset="0.7732" stop-color="#ec9632"/><stop offset="0.7766" stop-color="#d5600e"/><stop offset="0.7932" stop-color="#d5600e"/><stop offset="0.7966" stop-color="#e88b2d"/><stop offset="0.8057" stop-color="#e88b2d"/><stop offset="0.8089" stop-color="#da6b19"/><stop offset="0.8104" stop-color="#da6b19"/><stop offset="0.8137" stop-color="#f1a038"/><stop offset="0.8160" stop-color="#f1a038"/><stop offset="0.8194" stop-color="#da6b19"/><stop offset="0.8256" stop-color="#da6b19"/><stop offset="0.8289" stop-color="#e88b2d"/><stop offset="0.8304" stop-color="#e88b2d"/><stop offset="0.8336" stop-color="#d15202"/><stop offset="0.9983" stop-color="#d15202"/></linearGradient><linearGradient id="c2021" gradientUnits="userSpaceOnUse" x1="0" y1="83.0" x2="0" y2="434.0"><stop offset="0.0017" stop-color="#cf4f00"/><stop offset="0.4598" stop-color="#d25605"/><stop offset="0.4632" stop-color="#de7521"/><stop offset="0.4655" stop-color="#de7521"/><stop offset="0.4689" stop-color="#d25605"/><stop offset="0.4997" stop-color="#d25706"/><stop offset="0.5031" stop-color="#d5600e"/><stop offset="0.5299" stop-color="#d5600e"/><stop offset="0.5333" stop-color="#e88b2d"/><stop offset="0.5373" stop-color="#e88b2d"/><stop offset="0.5407" stop-color="#d5600e"/><stop offset="0.5447" stop-color="#d5600e"/><stop offset="0.5481" stop-color="#db6e1c"/><stop offset="0.6553" stop-color="#db6e1c"/><stop offset="0.6586" stop-color="#f1a038"/><stop offset="0.6602" stop-color="#f1a038"/><stop offset="0.6635" stop-color="#d15404"/><stop offset="0.7504" stop-color="#d15404"/><stop offset="0.7538" stop-color="#d15404"/><stop offset="0.8160" stop-color="#d15404"/><stop offset="0.8177" stop-color="#ffffff"/><stop offset="0.8222" stop-color="#ffffff"/><stop offset="0.8239" stop-color="#d15202"/><stop offset="0.8658" stop-color="#d15202"/><stop offset="0.8692" stop-color="#da6b19"/><stop offset="0.8709" stop-color="#da6b19"/><stop offset="0.8744" stop-color="#d15202"/><stop offset="0.9983" stop-color="#d15202"/></linearGradient><linearGradient id="c2022" gradientUnits="userSpaceOnUse" x1="0" y1="83.0" x2="0" y2="434.0"><stop offset="0.0017" stop-color="#cf4f00"/><stop offset="0.2946" stop-color="#d15404"/><stop offset="0.2980" stop-color="#de7521"/><stop offset="0.3003" stop-color="#de7521"/><stop offset="0.3037" stop-color="#d35a09"/><stop offset="0.4399" stop-color="#da6b19"/><stop offset="0.4433" stop-color="#e88b2d"/><stop offset="0.4484" stop-color="#e88b2d"/><stop offset="0.4519" stop-color="#d76513"/><stop offset="0.4997" stop-color="#d76513"/><stop offset="0.5031" stop-color="#dc701e"/><stop offset="0.5447" stop-color="#dc701e"/><stop offset="0.5481" stop-color="#d76513"/><stop offset="0.6507" stop-color="#d76513"/><stop offset="0.6541" stop-color="#da6b19"/><stop offset="0.7504" stop-color="#da6b19"/><stop offset="0.7538" stop-color="#ec9632"/><stop offset="0.7604" stop-color="#ec9632"/><stop offset="0.7638" stop-color="#fdca68"/><stop offset="0.7732" stop-color="#fdca68"/><stop offset="0.7766" stop-color="#e88b2d"/><stop offset="0.7875" stop-color="#e88b2d"/><stop offset="0.7909" stop-color="#f9b445"/><stop offset="0.7932" stop-color="#f9b445"/><stop offset="0.7956" stop-color="#e88b2d"/><stop offset="0.7964" stop-color="#e88b2d"/><stop offset="0.7989" stop-color="#fcc35a"/><stop offset="0.8006" stop-color="#fcc35a"/><stop offset="0.8040" stop-color="#d25706"/><stop offset="0.8507" stop-color="#d25706"/><stop offset="0.8541" stop-color="#da6b19"/><stop offset="0.8558" stop-color="#da6b19"/><stop offset="0.8593" stop-color="#d25706"/><stop offset="0.8858" stop-color="#d25706"/><stop offset="0.8892" stop-color="#d15404"/><stop offset="0.9311" stop-color="#d15404"/><stop offset="0.9345" stop-color="#cccbca"/><stop offset="0.9385" stop-color="#cccbca"/><stop offset="0.9410" stop-color="#f9b445"/><stop offset="0.9419" stop-color="#f9b445"/><stop offset="0.9436" stop-color="#da6b19"/><stop offset="0.9444" stop-color="#da6b19"/><stop offset="0.9470" stop-color="#d15202"/><stop offset="0.9983" stop-color="#d15202"/></linearGradient><linearGradient id="c2023" gradientUnits="userSpaceOnUse" x1="0" y1="83.0" x2="0" y2="434.0"><stop offset="0.0017" stop-color="#cf4f00"/><stop offset="0.1521" stop-color="#cf4f00"/><stop offset="0.1556" stop-color="#d15202"/><stop offset="0.2547" stop-color="#e38028"/><stop offset="0.2581" stop-color="#e88b2d"/><stop offset="0.3145" stop-color="#e88b2d"/><stop offset="0.3179" stop-color="#fcbc4c"/><stop offset="0.3886" stop-color="#fcbc4c"/><stop offset="0.3920" stop-color="#e88b2d"/><stop offset="0.4199" stop-color="#e88b2d"/><stop offset="0.4234" stop-color="#f9b445"/><stop offset="0.4496" stop-color="#f9b445"/><stop offset="0.4530" stop-color="#e88b2d"/><stop offset="0.4746" stop-color="#e88b2d"/><stop offset="0.4781" stop-color="#e38028"/><stop offset="0.4997" stop-color="#e38028"/><stop offset="0.5031" stop-color="#fcc35a"/><stop offset="0.5097" stop-color="#fcc35a"/><stop offset="0.5131" stop-color="#f1a038"/><stop offset="0.5197" stop-color="#f1a038"/><stop offset="0.5231" stop-color="#fcbc4c"/><stop offset="0.5453" stop-color="#fcbc4c"/><stop offset="0.5485" stop-color="#74a6ce"/><stop offset="0.5500" stop-color="#74a6ce"/><stop offset="0.5533" stop-color="#fcc35a"/><stop offset="0.5650" stop-color="#fcc35a"/><stop offset="0.5684" stop-color="#e88b2d"/><stop offset="0.5900" stop-color="#e88b2d"/><stop offset="0.5934" stop-color="#da6b19"/><stop offset="0.7105" stop-color="#da6b19"/><stop offset="0.7136" stop-color="#5a9cc8"/><stop offset="0.7149" stop-color="#5a9cc8"/><stop offset="0.7179" stop-color="#fcc35a"/><stop offset="0.7248" stop-color="#fcc35a"/><stop offset="0.7282" stop-color="#cccbca"/><stop offset="0.7353" stop-color="#cccbca"/><stop offset="0.7387" stop-color="#a7bad9"/><stop offset="0.7405" stop-color="#a7bad9"/><stop offset="0.7438" stop-color="#e88b2d"/><stop offset="0.7454" stop-color="#e88b2d"/><stop offset="0.7487" stop-color="#d4cec1"/><stop offset="0.7504" stop-color="#d4cec1"/><stop offset="0.7538" stop-color="#f6ab3e"/><stop offset="0.7604" stop-color="#f6ab3e"/><stop offset="0.7638" stop-color="#d15202"/><stop offset="0.8006" stop-color="#d15202"/><stop offset="0.8040" stop-color="#e88b2d"/><stop offset="0.8080" stop-color="#e88b2d"/><stop offset="0.8114" stop-color="#d5600e"/><stop offset="0.8205" stop-color="#d5600e"/><stop offset="0.8239" stop-color="#ec9632"/><stop offset="0.8256" stop-color="#ec9632"/><stop offset="0.8291" stop-color="#d15202"/><stop offset="0.8883" stop-color="#d15202"/><stop offset="0.8917" stop-color="#de7521"/><stop offset="0.8957" stop-color="#de7521"/><stop offset="0.8991" stop-color="#cf4f00"/><stop offset="0.9983" stop-color="#cf4f00"/></linearGradient><linearGradient id="c2024" gradientUnits="userSpaceOnUse" x1="0" y1="83.0" x2="0" y2="434.0"><stop offset="0.0017" stop-color="#d15202"/><stop offset="0.2034" stop-color="#d15202"/><stop offset="0.2068" stop-color="#d15404"/><stop offset="0.3060" stop-color="#e38028"/><stop offset="0.3094" stop-color="#e38028"/><stop offset="0.3593" stop-color="#e38028"/><stop offset="0.3627" stop-color="#f6ab3e"/><stop offset="0.3943" stop-color="#f6ab3e"/><stop offset="0.3977" stop-color="#e38028"/><stop offset="0.4094" stop-color="#e38028"/><stop offset="0.4127" stop-color="#f9b445"/><stop offset="0.4143" stop-color="#f9b445"/><stop offset="0.4177" stop-color="#f1a038"/><stop offset="0.4997" stop-color="#f1a038"/><stop offset="0.5031" stop-color="#e5862a"/><stop offset="0.5795" stop-color="#e5862a"/><stop offset="0.5829" stop-color="#fcbc4c"/><stop offset="0.6051" stop-color="#fcbc4c"/><stop offset="0.6085" stop-color="#67a1cb"/><stop offset="0.6125" stop-color="#67a1cb"/><stop offset="0.6160" stop-color="#f9b445"/><stop offset="0.6202" stop-color="#f9b445"/><stop offset="0.6236" stop-color="#ea9030"/><stop offset="0.6450" stop-color="#ea9030"/><stop offset="0.6484" stop-color="#fdca68"/><stop offset="0.6501" stop-color="#fdca68"/><stop offset="0.6527" stop-color="#cccbca"/><stop offset="0.6536" stop-color="#cccbca"/><stop offset="0.6561" stop-color="#fcc35a"/><stop offset="0.6650" stop-color="#fcc35a"/><stop offset="0.6684" stop-color="#ec9632"/><stop offset="0.6903" stop-color="#ec9632"/><stop offset="0.6937" stop-color="#fdd078"/><stop offset="0.6954" stop-color="#fdd078"/><stop offset="0.6989" stop-color="#e17b25"/><stop offset="0.7105" stop-color="#e17b25"/><stop offset="0.7139" stop-color="#f6ab3e"/><stop offset="0.7155" stop-color="#f6ab3e"/><stop offset="0.7188" stop-color="#d5600e"/><stop offset="0.7504" stop-color="#d5600e"/><stop offset="0.7538" stop-color="#da6b19"/><stop offset="0.7655" stop-color="#da6b19"/><stop offset="0.7689" stop-color="#de7521"/><stop offset="0.7781" stop-color="#de7521"/><stop offset="0.7814" stop-color="#f9b445"/><stop offset="0.7830" stop-color="#f9b445"/><stop offset="0.7863" stop-color="#d15202"/><stop offset="0.8632" stop-color="#d15202"/><stop offset="0.8667" stop-color="#da6b19"/><stop offset="0.8684" stop-color="#da6b19"/><stop offset="0.8718" stop-color="#cf4f00"/><stop offset="0.9983" stop-color="#cf4f00"/></linearGradient><linearGradient id="c2025" gradientUnits="userSpaceOnUse" x1="0" y1="83.0" x2="0" y2="434.0"><stop offset="0.0017" stop-color="#cf4f00"/><stop offset="0.2319" stop-color="#cf4f00"/><stop offset="0.2353" stop-color="#d15202"/><stop offset="0.3043" stop-color="#e17b25"/><stop offset="0.3076" stop-color="#f1a038"/><stop offset="0.3092" stop-color="#f1a038"/><stop offset="0.3125" stop-color="#e38028"/><stop offset="0.3487" stop-color="#e38028"/><stop offset="0.3521" stop-color="#e88b2d"/><stop offset="0.3795" stop-color="#e88b2d"/><stop offset="0.3829" stop-color="#ea9030"/><stop offset="0.4199" stop-color="#ea9030"/><stop offset="0.4234" stop-color="#f6ab3e"/><stop offset="0.4997" stop-color="#f6ab3e"/><stop offset="0.5031" stop-color="#f9b445"/><stop offset="0.5299" stop-color="#f9b445"/><stop offset="0.5333" stop-color="#f6ab3e"/><stop offset="0.5447" stop-color="#f6ab3e"/><stop offset="0.5481" stop-color="#fcc35a"/><stop offset="0.5550" stop-color="#fcc35a"/><stop offset="0.5584" stop-color="#de7521"/><stop offset="0.5801" stop-color="#de7521"/><stop offset="0.5835" stop-color="#f1a038"/><stop offset="0.6000" stop-color="#f1a038"/><stop offset="0.6034" stop-color="#f9b445"/><stop offset="0.6450" stop-color="#f9b445"/><stop offset="0.6484" stop-color="#9cb4d8"/><stop offset="0.6507" stop-color="#9cb4d8"/><stop offset="0.6541" stop-color="#348cbe"/><stop offset="0.6578" stop-color="#348cbe"/><stop offset="0.6613" stop-color="#d35a09"/><stop offset="0.7504" stop-color="#d35a09"/><stop offset="0.7530" stop-color="#bcc6dc"/><stop offset="0.7538" stop-color="#bcc6dc"/><stop offset="0.7564" stop-color="#f2d498"/><stop offset="0.7604" stop-color="#f2d498"/><stop offset="0.7638" stop-color="#fcc35a"/><stop offset="0.7655" stop-color="#fcc35a"/><stop offset="0.7689" stop-color="#a7bad9"/><stop offset="0.7705" stop-color="#a7bad9"/><stop offset="0.7738" stop-color="#f6ab3e"/><stop offset="0.7960" stop-color="#f6ab3e"/><stop offset="0.7992" stop-color="#bcc6dc"/><stop offset="0.8008" stop-color="#bcc6dc"/><stop offset="0.8040" stop-color="#e5862a"/><stop offset="0.8456" stop-color="#e5862a"/><stop offset="0.8490" stop-color="#fcbc4c"/><stop offset="0.8530" stop-color="#fcbc4c"/><stop offset="0.8564" stop-color="#051389"/><stop offset="0.8587" stop-color="#051389"/><stop offset="0.8621" stop-color="#d15202"/><stop offset="0.8658" stop-color="#d15202"/><stop offset="0.8692" stop-color="#de7521"/><stop offset="0.8709" stop-color="#de7521"/><stop offset="0.8744" stop-color="#d15202"/><stop offset="0.9983" stop-color="#d15202"/></linearGradient><linearGradient id="c2026" gradientUnits="userSpaceOnUse" x1="0" y1="83.0" x2="0" y2="434.0"><stop offset="0.0000" stop-color="#ffffff"/><stop offset="0.8575" stop-color="#ffffff"/><stop offset="0.8593" stop-color="#de7521"/><stop offset="0.8701" stop-color="#de7521"/><stop offset="0.8735" stop-color="#f9b445"/><stop offset="0.8758" stop-color="#f9b445"/><stop offset="0.8792" stop-color="#e38028"/><stop offset="0.8832" stop-color="#e38028"/><stop offset="0.8858" stop-color="#f9b445"/><stop offset="0.8866" stop-color="#f9b445"/><stop offset="0.8892" stop-color="#e17b25"/><stop offset="0.9009" stop-color="#e17b25"/><stop offset="0.9043" stop-color="#d5600e"/><stop offset="0.9259" stop-color="#d5600e"/><stop offset="0.9293" stop-color="#e88b2d"/><stop offset="0.9311" stop-color="#e88b2d"/><stop offset="0.9345" stop-color="#d15404"/><stop offset="0.9983" stop-color="#d15404"/></linearGradient></defs>
<g><rect x="44.1" y="83.0" width="12.70" height="351.0" fill="url(#c1997)"/><rect x="55.8" y="83.0" width="12.70" height="351.0" fill="url(#c1998)"/><rect x="67.5" y="83.0" width="12.70" height="351.0" fill="url(#c1999)"/><rect x="79.19999999999999" y="83.0" width="12.70" height="351.0" fill="url(#c2000)"/><rect x="90.9" y="83.0" width="12.70" height="351.0" fill="url(#c2001)"/><rect x="102.6" y="83.0" width="12.70" height="351.0" fill="url(#c2002)"/><rect x="114.29999999999998" y="83.0" width="12.70" height="351.0" fill="url(#c2003)"/><rect x="126.0" y="83.0" width="12.70" height="351.0" fill="url(#c2004)"/><rect x="137.7" y="83.0" width="12.70" height="351.0" fill="url(#c2005)"/><rect x="149.4" y="83.0" width="12.70" height="351.0" fill="url(#c2006)"/><rect x="161.1" y="83.0" width="12.70" height="351.0" fill="url(#c2007)"/><rect x="172.79999999999998" y="83.0" width="12.70" height="351.0" fill="url(#c2008)"/><rect x="184.49999999999997" y="83.0" width="12.70" height="351.0" fill="url(#c2009)"/><rect x="196.2" y="83.0" width="12.70" height="351.0" fill="url(#c2010)"/><rect x="207.89999999999998" y="83.0" width="12.70" height="351.0" fill="url(#c2011)"/><rect x="219.6" y="83.0" width="12.70" height="351.0" fill="url(#c2012)"/><rect x="231.29999999999998" y="83.0" width="12.70" height="351.0" fill="url(#c2013)"/><rect x="242.99999999999997" y="83.0" width="12.70" height="351.0" fill="url(#c2014)"/><rect x="254.7" y="83.0" width="12.70" height="351.0" fill="url(#c2015)"/><rect x="266.4" y="83.0" width="12.70" height="351.0" fill="url(#c2016)"/><rect x="278.1" y="83.0" width="12.70" height="351.0" fill="url(#c2017)"/><rect x="289.8" y="83.0" width="12.70" height="351.0" fill="url(#c2018)"/><rect x="301.5" y="83.0" width="12.70" height="351.0" fill="url(#c2019)"/><rect x="313.2" y="83.0" width="12.70" height="351.0" fill="url(#c2020)"/><rect x="324.9" y="83.0" width="12.70" height="351.0" fill="url(#c2021)"/><rect x="336.6" y="83.0" width="12.70" height="351.0" fill="url(#c2022)"/><rect x="348.3" y="83.0" width="12.70" height="351.0" fill="url(#c2023)"/><rect x="360.0" y="83.0" width="12.70" height="351.0" fill="url(#c2024)"/><rect x="371.7" y="83.0" width="12.70" height="351.0" fill="url(#c2025)"/><rect x="383.4" y="83.0" width="11.70" height="351.0" fill="url(#c2026)"/></g>
<line x1="48.6" y1="404.20" x2="394.25" y2="404.20" stroke="#000" stroke-width="1.3" stroke-dasharray="1.2 3.2" opacity="0.28"/>
<line x1="48.6" y1="377.50" x2="394.25" y2="377.50" stroke="#000" stroke-width="1.3" stroke-dasharray="1.2 3.2" opacity="0.28"/>
<line x1="48.6" y1="347.20" x2="394.25" y2="347.20" stroke="#000" stroke-width="1.3" stroke-dasharray="1.2 3.2" opacity="0.28"/>
<line x1="48.6" y1="318.50" x2="394.25" y2="318.50" stroke="#000" stroke-width="1.3" stroke-dasharray="1.2 3.2" opacity="0.28"/>
<line x1="48.6" y1="288.30" x2="394.25" y2="288.30" stroke="#000" stroke-width="1.3" stroke-dasharray="1.2 3.2" opacity="0.28"/>
<line x1="48.6" y1="259.30" x2="394.25" y2="259.30" stroke="#000" stroke-width="1.3" stroke-dasharray="1.2 3.2" opacity="0.28"/>
<line x1="48.6" y1="230.50" x2="394.25" y2="230.50" stroke="#000" stroke-width="1.3" stroke-dasharray="1.2 3.2" opacity="0.28"/>
<line x1="48.6" y1="200.30" x2="394.25" y2="200.30" stroke="#000" stroke-width="1.3" stroke-dasharray="1.2 3.2" opacity="0.28"/>
<line x1="48.6" y1="171.20" x2="394.25" y2="171.20" stroke="#000" stroke-width="1.3" stroke-dasharray="1.2 3.2" opacity="0.28"/>
<line x1="48.6" y1="141.50" x2="394.25" y2="141.50" stroke="#000" stroke-width="1.3" stroke-dasharray="1.2 3.2" opacity="0.28"/>
<line x1="48.6" y1="112.25" x2="394.25" y2="112.25" stroke="#000" stroke-width="1.3" stroke-dasharray="1.2 3.2" opacity="0.28"/>
<rect x="44.65" y="83.6" width="350.75" height="350.70" fill="none" stroke="#000" stroke-width="1.3"/>
<g style="text-rendering:geometricPrecision">
<line x1="38" y1="434.00" x2="44.6" y2="434.00" stroke="#000" stroke-width="1.4"/>
<text x="31.4" y="437.80" font-size="11" text-anchor="end" fill="#111">Oct</text>
<line x1="38" y1="404.20" x2="44.6" y2="404.20" stroke="#000" stroke-width="1.4"/>
<text x="31.4" y="408.00" font-size="11" text-anchor="end" fill="#111">Nov</text>
<line x1="38" y1="377.50" x2="44.6" y2="377.50" stroke="#000" stroke-width="1.4"/>
<text x="31.4" y="381.30" font-size="11" text-anchor="end" fill="#111">Dec</text>
<line x1="38" y1="347.20" x2="44.6" y2="347.20" stroke="#000" stroke-width="1.4"/>
<text x="31.4" y="351.00" font-size="11" text-anchor="end" fill="#111">Jan</text>
<line x1="38" y1="318.50" x2="44.6" y2="318.50" stroke="#000" stroke-width="1.4"/>
<text x="31.4" y="322.30" font-size="11" text-anchor="end" fill="#111">Feb</text>
<line x1="38" y1="288.30" x2="44.6" y2="288.30" stroke="#000" stroke-width="1.4"/>
<text x="31.4" y="292.10" font-size="11" text-anchor="end" fill="#111">Mar</text>
<line x1="38" y1="259.30" x2="44.6" y2="259.30" stroke="#000" stroke-width="1.4"/>
<text x="31.4" y="263.10" font-size="11" text-anchor="end" fill="#111">Apr</text>
<line x1="38" y1="230.50" x2="44.6" y2="230.50" stroke="#000" stroke-width="1.4"/>
<text x="31.4" y="234.30" font-size="11" text-anchor="end" fill="#111">May</text>
<line x1="38" y1="200.30" x2="44.6" y2="200.30" stroke="#000" stroke-width="1.4"/>
<text x="31.4" y="204.10" font-size="11" text-anchor="end" fill="#111">Jun</text>
<line x1="38" y1="171.20" x2="44.6" y2="171.20" stroke="#000" stroke-width="1.4"/>
<text x="31.4" y="175.00" font-size="11" text-anchor="end" fill="#111">Jul</text>
<line x1="38" y1="141.50" x2="44.6" y2="141.50" stroke="#000" stroke-width="1.4"/>
<text x="31.4" y="145.30" font-size="11" text-anchor="end" fill="#111">Aug</text>
<line x1="38" y1="112.25" x2="44.6" y2="112.25" stroke="#000" stroke-width="1.4"/>
<text x="31.4" y="116.05" font-size="11" text-anchor="end" fill="#111">Sep</text>
<line x1="50.44" y1="434.3" x2="50.44" y2="439.8" stroke="#000" stroke-width="1.4"/>
<text transform="translate(54.04,473.8) rotate(-90)" font-size="11.8" fill="#111">1997</text>
<line x1="62.13" y1="434.3" x2="62.13" y2="439.8" stroke="#000" stroke-width="1.4"/>
<text transform="translate(65.73,473.8) rotate(-90)" font-size="11.8" fill="#111">1998</text>
<line x1="73.82" y1="434.3" x2="73.82" y2="439.8" stroke="#000" stroke-width="1.4"/>
<text transform="translate(77.42,473.8) rotate(-90)" font-size="11.8" fill="#111">1999</text>
<line x1="85.51" y1="434.3" x2="85.51" y2="439.8" stroke="#000" stroke-width="1.4"/>
<text transform="translate(89.11,473.8) rotate(-90)" font-size="11.8" fill="#111">2000</text>
<line x1="97.20" y1="434.3" x2="97.20" y2="439.8" stroke="#000" stroke-width="1.4"/>
<text transform="translate(100.80,473.8) rotate(-90)" font-size="11.8" fill="#111">2001</text>
<line x1="108.89" y1="434.3" x2="108.89" y2="439.8" stroke="#000" stroke-width="1.4"/>
<text transform="translate(112.49,473.8) rotate(-90)" font-size="11.8" fill="#111">2002</text>
<line x1="120.57" y1="434.3" x2="120.57" y2="439.8" stroke="#000" stroke-width="1.4"/>
<text transform="translate(124.17,473.8) rotate(-90)" font-size="11.8" fill="#111">2003</text>
<line x1="132.26" y1="434.3" x2="132.26" y2="439.8" stroke="#000" stroke-width="1.4"/>
<text transform="translate(135.86,473.8) rotate(-90)" font-size="11.8" fill="#111">2004</text>
<line x1="143.95" y1="434.3" x2="143.95" y2="439.8" stroke="#000" stroke-width="1.4"/>
<text transform="translate(147.55,473.8) rotate(-90)" font-size="11.8" fill="#111">2005</text>
<line x1="155.64" y1="434.3" x2="155.64" y2="439.8" stroke="#000" stroke-width="1.4"/>
<text transform="translate(159.24,473.8) rotate(-90)" font-size="11.8" fill="#111">2006</text>
<line x1="167.33" y1="434.3" x2="167.33" y2="439.8" stroke="#000" stroke-width="1.4"/>
<text transform="translate(170.93,473.8) rotate(-90)" font-size="11.8" fill="#111">2007</text>
<line x1="179.02" y1="434.3" x2="179.02" y2="439.8" stroke="#000" stroke-width="1.4"/>
<text transform="translate(182.62,473.8) rotate(-90)" font-size="11.8" fill="#111">2008</text>
<line x1="190.70" y1="434.3" x2="190.70" y2="439.8" stroke="#000" stroke-width="1.4"/>
<text transform="translate(194.30,473.8) rotate(-90)" font-size="11.8" fill="#111">2009</text>
<line x1="202.39" y1="434.3" x2="202.39" y2="439.8" stroke="#000" stroke-width="1.4"/>
<text transform="translate(205.99,473.8) rotate(-90)" font-size="11.8" fill="#111">2010</text>
<line x1="214.08" y1="434.3" x2="214.08" y2="439.8" stroke="#000" stroke-width="1.4"/>
<text transform="translate(217.68,473.8) rotate(-90)" font-size="11.8" fill="#111">2011</text>
<line x1="225.77" y1="434.3" x2="225.77" y2="439.8" stroke="#000" stroke-width="1.4"/>
<text transform="translate(229.37,473.8) rotate(-90)" font-size="11.8" fill="#111">2012</text>
<line x1="237.46" y1="434.3" x2="237.46" y2="439.8" stroke="#000" stroke-width="1.4"/>
<text transform="translate(241.06,473.8) rotate(-90)" font-size="11.8" fill="#111">2013</text>
<line x1="249.15" y1="434.3" x2="249.15" y2="439.8" stroke="#000" stroke-width="1.4"/>
<text transform="translate(252.75,473.8) rotate(-90)" font-size="11.8" fill="#111">2014</text>
<line x1="260.83" y1="434.3" x2="260.83" y2="439.8" stroke="#000" stroke-width="1.4"/>
<text transform="translate(264.43,473.8) rotate(-90)" font-size="11.8" fill="#111">2015</text>
<line x1="272.52" y1="434.3" x2="272.52" y2="439.8" stroke="#000" stroke-width="1.4"/>
<text transform="translate(276.12,473.8) rotate(-90)" font-size="11.8" fill="#111">2016</text>
<line x1="284.21" y1="434.3" x2="284.21" y2="439.8" stroke="#000" stroke-width="1.4"/>
<text transform="translate(287.81,473.8) rotate(-90)" font-size="11.8" fill="#111">2017</text>
<line x1="295.90" y1="434.3" x2="295.90" y2="439.8" stroke="#000" stroke-width="1.4"/>
<text transform="translate(299.50,473.8) rotate(-90)" font-size="11.8" fill="#111">2018</text>
<line x1="307.59" y1="434.3" x2="307.59" y2="439.8" stroke="#000" stroke-width="1.4"/>
<text transform="translate(311.19,473.8) rotate(-90)" font-size="11.8" fill="#111">2019</text>
<line x1="319.28" y1="434.3" x2="319.28" y2="439.8" stroke="#000" stroke-width="1.4"/>
<text transform="translate(322.88,473.8) rotate(-90)" font-size="11.8" fill="#111">2020</text>
<line x1="330.96" y1="434.3" x2="330.96" y2="439.8" stroke="#000" stroke-width="1.4"/>
<text transform="translate(334.56,473.8) rotate(-90)" font-size="11.8" fill="#111">2021</text>
<line x1="342.65" y1="434.3" x2="342.65" y2="439.8" stroke="#000" stroke-width="1.4"/>
<text transform="translate(346.25,473.8) rotate(-90)" font-size="11.8" fill="#111">2022</text>
<line x1="354.34" y1="434.3" x2="354.34" y2="439.8" stroke="#000" stroke-width="1.4"/>
<text transform="translate(357.94,473.8) rotate(-90)" font-size="11.8" fill="#111">2023</text>
<line x1="366.03" y1="434.3" x2="366.03" y2="439.8" stroke="#000" stroke-width="1.4"/>
<text transform="translate(369.63,473.8) rotate(-90)" font-size="11.8" fill="#111">2024</text>
<line x1="377.72" y1="434.3" x2="377.72" y2="439.8" stroke="#000" stroke-width="1.4"/>
<text transform="translate(381.32,473.8) rotate(-90)" font-size="11.8" fill="#111">2025</text>
<line x1="389.41" y1="434.3" x2="389.41" y2="439.8" stroke="#000" stroke-width="1.4"/>
<text transform="translate(393.01,473.8) rotate(-90)" font-size="11.8" fill="#111">2026</text>
<g font-weight="bold" font-size="14" fill="#111" lengthAdjust="spacingAndGlyphs">
<text x="118.3" y="25" textLength="203" lengthAdjust="spacingAndGlyphs">MLM Mill Creek nr Los Molinos</text>
<text x="55.8" y="43.6" textLength="328.4" lengthAdjust="spacingAndGlyphs">WY 1997-2026 Daily Average River Discharge Flow</text>
<text x="106.2" y="62.4" textLength="228" lengthAdjust="spacingAndGlyphs">Observed Range 0.064 : 4.336 TCFS</text>
</g>
<defs><linearGradient id="cb" x1="0" y1="0" x2="0" y2="1">
<stop offset="0.0000" stop-color="#060c88"/>
<stop offset="0.0787" stop-color="#143c9a"/>
<stop offset="0.1957" stop-color="#2a88bb"/>
<stop offset="0.3127" stop-color="#5a9cc8"/>
<stop offset="0.4298" stop-color="#9cb4d8"/>
<stop offset="0.4766" stop-color="#b4c0dc"/>
<stop offset="0.5351" stop-color="#c8c8d0"/>
<stop offset="0.6007" stop-color="#e0d0b0"/>
<stop offset="0.6639" stop-color="#fdd890"/>
<stop offset="0.7271" stop-color="#fdcc70"/>
<stop offset="0.7903" stop-color="#fdc050"/>
<stop offset="0.8324" stop-color="#f0a040"/>
<stop offset="0.8933" stop-color="#e08030"/>
<stop offset="0.9565" stop-color="#d86618"/>
<stop offset="1.0000" stop-color="#cc5000"/>
</linearGradient></defs>
<rect x="403.5" y="83.6" width="18.19999999999999" height="350.70" fill="url(#cb)" stroke="#000" stroke-width="1.3"/>
<line x1="421.7" y1="83.60" x2="427" y2="83.60" stroke="#000" stroke-width="1.4"/>
<text x="437.8" y="86.80" font-size="11" fill="#111" textLength="41.2" lengthAdjust="spacingAndGlyphs">&gt; 4.336</text>
<line x1="421.7" y1="111.18" x2="427" y2="111.18" stroke="#000" stroke-width="1.4"/>
<text x="437.8" y="114.88" font-size="11" fill="#111">4</text>
<line x1="421.7" y1="152.23" x2="427" y2="152.23" stroke="#000" stroke-width="1.4"/>
<text x="437.8" y="155.93" font-size="11" fill="#111">3.5</text>
<line x1="421.7" y1="193.28" x2="427" y2="193.28" stroke="#000" stroke-width="1.4"/>
<text x="437.8" y="196.98" font-size="11" fill="#111">3</text>
<line x1="421.7" y1="234.32" x2="427" y2="234.32" stroke="#000" stroke-width="1.4"/>
<text x="437.8" y="238.02" font-size="11" fill="#111">2.5</text>
<line x1="421.7" y1="275.37" x2="427" y2="275.37" stroke="#000" stroke-width="1.4"/>
<text x="437.8" y="279.07" font-size="11" fill="#111">2</text>
<line x1="421.7" y1="316.41" x2="427" y2="316.41" stroke="#000" stroke-width="1.4"/>
<text x="437.8" y="320.11" font-size="11" fill="#111">1.5</text>
<line x1="421.7" y1="357.46" x2="427" y2="357.46" stroke="#000" stroke-width="1.4"/>
<text x="437.8" y="361.16" font-size="11" fill="#111">1</text>
<line x1="421.7" y1="398.51" x2="427" y2="398.51" stroke="#000" stroke-width="1.4"/>
<text x="437.8" y="402.21" font-size="11" fill="#111">0.5</text>
<line x1="421.7" y1="434.30" x2="427" y2="434.30" stroke="#000" stroke-width="1.4"/>
<text x="437.8" y="439.00" font-size="11" fill="#111" textLength="41.2" lengthAdjust="spacingAndGlyphs">&lt; 0.064</text>
<text transform="translate(498.2,295.2) rotate(-90)" font-size="14.2" font-weight="bold" fill="#111" textLength="72" lengthAdjust="spacingAndGlyphs">Scale (TCFS)</text>
<text x="5.6" y="488.9" font-size="12" fill="#3d4a50" textLength="207.6" lengthAdjust="spacingAndGlyphs">www.cbr.washington.edu/sacramento/</text>
<text x="494.4" y="488.9" font-size="12" text-anchor="end" fill="#3d4a50">23 Nov 2025 15:45:50 PST</text>
</g>
</svg></body></html>
